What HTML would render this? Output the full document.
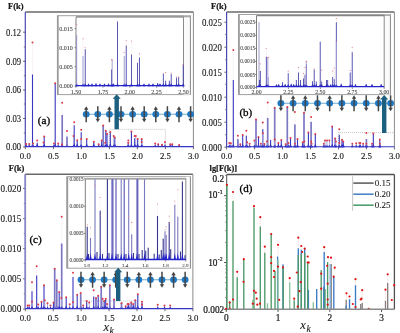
<!DOCTYPE html>
<html><head><meta charset="utf-8"><style>
html,body{margin:0;padding:0;background:#fff;width:400px;height:333px;overflow:hidden}
svg{display:block;will-change:transform}
</style></head><body>
<svg width="400" height="333" viewBox="0 0 400 333" font-family="Liberation Serif">
<rect width="400" height="333" fill="#fff"/>
<line x1="25.30" y1="12.00" x2="193.40" y2="12.00" stroke="#6a6a6a" stroke-width="1.5" />
<line x1="193.40" y1="12.00" x2="193.40" y2="147.00" stroke="#8a8a8a" stroke-width="1.0" />
<line x1="25.30" y1="12.00" x2="25.30" y2="147.00" stroke="#4a48b4" stroke-width="1.2" />
<line x1="23.10" y1="32.20" x2="25.30" y2="32.20" stroke="#555" stroke-width="0.9" />
<text transform="translate(21.20,35.50) scale(0.93,1)" font-size="9.309" text-anchor="end" font-weight="normal" font-style="normal" fill="#1a1a1a" stroke="#1a1a1a" stroke-width="0.12">0.12</text>
<line x1="23.10" y1="61.30" x2="25.30" y2="61.30" stroke="#555" stroke-width="0.9" />
<text transform="translate(21.20,64.60) scale(0.93,1)" font-size="9.309" text-anchor="end" font-weight="normal" font-style="normal" fill="#1a1a1a" stroke="#1a1a1a" stroke-width="0.12">0.09</text>
<line x1="23.10" y1="90.00" x2="25.30" y2="90.00" stroke="#555" stroke-width="0.9" />
<text transform="translate(21.20,93.30) scale(0.93,1)" font-size="9.309" text-anchor="end" font-weight="normal" font-style="normal" fill="#1a1a1a" stroke="#1a1a1a" stroke-width="0.12">0.06</text>
<line x1="23.10" y1="118.50" x2="25.30" y2="118.50" stroke="#555" stroke-width="0.9" />
<text transform="translate(21.20,121.80) scale(0.93,1)" font-size="9.309" text-anchor="end" font-weight="normal" font-style="normal" fill="#1a1a1a" stroke="#1a1a1a" stroke-width="0.12">0.03</text>
<line x1="23.10" y1="147.00" x2="25.30" y2="147.00" stroke="#555" stroke-width="0.9" />
<text transform="translate(21.20,150.30) scale(0.93,1)" font-size="9.309" text-anchor="end" font-weight="normal" font-style="normal" fill="#1a1a1a" stroke="#1a1a1a" stroke-width="0.12">0.00</text>
<line x1="23.80" y1="47.00" x2="25.30" y2="47.00" stroke="#666" stroke-width="0.8" />
<line x1="23.80" y1="75.70" x2="25.30" y2="75.70" stroke="#666" stroke-width="0.8" />
<line x1="23.80" y1="104.00" x2="25.30" y2="104.00" stroke="#666" stroke-width="0.8" />
<line x1="23.80" y1="133.00" x2="25.30" y2="133.00" stroke="#666" stroke-width="0.8" />
<line x1="25.30" y1="147.00" x2="25.30" y2="149.20" stroke="#555" stroke-width="0.9" />
<text x="25.30" y="159.30" font-size="8.8" text-anchor="middle" font-weight="normal" font-style="normal" fill="#1a1a1a" stroke="#1a1a1a" stroke-width="0.14">0.0</text>
<line x1="53.40" y1="147.00" x2="53.40" y2="149.20" stroke="#555" stroke-width="0.9" />
<text x="53.40" y="159.30" font-size="8.8" text-anchor="middle" font-weight="normal" font-style="normal" fill="#1a1a1a" stroke="#1a1a1a" stroke-width="0.14">0.5</text>
<line x1="81.40" y1="147.00" x2="81.40" y2="149.20" stroke="#555" stroke-width="0.9" />
<text x="81.40" y="159.30" font-size="8.8" text-anchor="middle" font-weight="normal" font-style="normal" fill="#1a1a1a" stroke="#1a1a1a" stroke-width="0.14">1.0</text>
<line x1="109.40" y1="147.00" x2="109.40" y2="149.20" stroke="#555" stroke-width="0.9" />
<text x="109.40" y="159.30" font-size="8.8" text-anchor="middle" font-weight="normal" font-style="normal" fill="#1a1a1a" stroke="#1a1a1a" stroke-width="0.14">1.5</text>
<line x1="137.40" y1="147.00" x2="137.40" y2="149.20" stroke="#555" stroke-width="0.9" />
<text x="137.40" y="159.30" font-size="8.8" text-anchor="middle" font-weight="normal" font-style="normal" fill="#1a1a1a" stroke="#1a1a1a" stroke-width="0.14">2.0</text>
<line x1="165.40" y1="147.00" x2="165.40" y2="149.20" stroke="#555" stroke-width="0.9" />
<text x="165.40" y="159.30" font-size="8.8" text-anchor="middle" font-weight="normal" font-style="normal" fill="#1a1a1a" stroke="#1a1a1a" stroke-width="0.14">2.5</text>
<line x1="193.40" y1="147.00" x2="193.40" y2="149.20" stroke="#555" stroke-width="0.9" />
<text x="193.40" y="159.30" font-size="8.8" text-anchor="middle" font-weight="normal" font-style="normal" fill="#1a1a1a" stroke="#1a1a1a" stroke-width="0.14">3.0</text>
<text x="8.00" y="8.80" font-size="8.5" text-anchor="start" font-weight="bold" font-style="normal" fill="#1a1a1a" stroke="#1a1a1a" stroke-width="0.22">F(k)</text>
<polyline points="109.4,147 109.4,129.3 165.4,129.3 165.4,147" fill="none" stroke="#b4b4b4" stroke-width="0.8" stroke-dasharray="1 1"/>
<polygon points="30.90,147.00 32.50,143.50 34.10,147.00" fill="#2828cc"/>
<polygon points="35.60,147.00 37.20,143.50 38.80,147.00" fill="#2828cc"/>
<polygon points="42.60,147.00 44.20,143.50 45.80,147.00" fill="#2828cc"/>
<polygon points="53.60,147.00 55.20,143.50 56.80,147.00" fill="#2828cc"/>
<polygon points="60.60,147.00 62.20,143.50 63.80,147.00" fill="#2828cc"/>
<polygon points="65.40,147.00 67.00,143.50 68.60,147.00" fill="#2828cc"/>
<polygon points="72.60,147.00 74.20,143.50 75.80,147.00" fill="#2828cc"/>
<polygon points="75.60,147.00 77.20,143.50 78.80,147.00" fill="#2828cc"/>
<polygon points="79.60,147.00 81.20,143.50 82.80,147.00" fill="#2828cc"/>
<polygon points="85.10,147.00 86.70,143.50 88.30,147.00" fill="#2828cc"/>
<polygon points="92.20,147.00 93.80,143.50 95.40,147.00" fill="#2828cc"/>
<polygon points="100.10,147.00 101.70,143.50 103.30,147.00" fill="#2828cc"/>
<polygon points="101.60,147.00 103.20,143.50 104.80,147.00" fill="#2828cc"/>
<polygon points="104.20,147.00 105.80,143.50 107.40,147.00" fill="#2828cc"/>
<polygon points="105.40,147.00 107.00,143.50 108.60,147.00" fill="#2828cc"/>
<polygon points="108.70,147.00 110.30,143.50 111.90,147.00" fill="#2828cc"/>
<polygon points="113.20,147.00 114.80,143.50 116.40,147.00" fill="#2828cc"/>
<polygon points="126.70,147.00 128.30,143.50 129.90,147.00" fill="#2828cc"/>
<polygon points="129.80,147.00 131.40,143.50 133.00,147.00" fill="#2828cc"/>
<polygon points="133.10,147.00 134.70,143.50 136.30,147.00" fill="#2828cc"/>
<polygon points="136.10,147.00 137.70,143.50 139.30,147.00" fill="#2828cc"/>
<polygon points="140.10,147.00 141.70,143.50 143.30,147.00" fill="#2828cc"/>
<line x1="32.50" y1="42.50" x2="32.50" y2="74.50" stroke="#f0dcdc" stroke-width="0.7" stroke-dasharray="1 1"/>
<rect x="31.95" y="74.50" width="1.1" height="72.50" fill="#3a36c0"/>
<line x1="37.20" y1="140.50" x2="37.20" y2="142.70" stroke="#f0dcdc" stroke-width="0.7" stroke-dasharray="1 1"/>
<rect x="36.65" y="142.70" width="1.1" height="4.30" fill="#3a36c0"/>
<rect x="43.65" y="137.00" width="1.1" height="10.00" fill="#3a36c0"/>
<rect x="54.65" y="83.00" width="1.1" height="64.00" fill="#3a36c0"/>
<line x1="62.20" y1="102.70" x2="62.20" y2="115.00" stroke="#f0dcdc" stroke-width="0.7" stroke-dasharray="1 1"/>
<rect x="61.35" y="115.00" width="1.7" height="32.00" fill="#7e78c4"/>
<line x1="67.00" y1="131.00" x2="67.00" y2="136.50" stroke="#f0dcdc" stroke-width="0.7" stroke-dasharray="1 1"/>
<rect x="66.15" y="136.50" width="1.7" height="10.50" fill="#7e78c4"/>
<line x1="74.20" y1="122.20" x2="74.20" y2="125.30" stroke="#f0dcdc" stroke-width="0.7" stroke-dasharray="1 1"/>
<rect x="73.65" y="125.30" width="1.1" height="21.70" fill="#3a36c0"/>
<rect x="76.65" y="141.00" width="1.1" height="6.00" fill="#3a36c0"/>
<line x1="81.20" y1="129.70" x2="81.20" y2="132.20" stroke="#f0dcdc" stroke-width="0.7" stroke-dasharray="1 1"/>
<rect x="80.65" y="132.20" width="1.1" height="14.80" fill="#3a36c0"/>
<rect x="86.15" y="139.00" width="1.1" height="8.00" fill="#3a36c0"/>
<rect x="93.25" y="142.00" width="1.1" height="5.00" fill="#3a36c0"/>
<rect x="101.15" y="141.00" width="1.1" height="6.00" fill="#3a36c0"/>
<rect x="102.35" y="125.50" width="1.7" height="21.50" fill="#7e78c4"/>
<rect x="105.25" y="130.70" width="1.1" height="16.30" fill="#3a36c0"/>
<rect x="106.45" y="134.00" width="1.1" height="13.00" fill="#3a36c0"/>
<rect x="109.75" y="132.20" width="1.1" height="14.80" fill="#3a36c0"/>
<rect x="114.25" y="137.50" width="1.1" height="9.50" fill="#3a36c0"/>
<line x1="128.30" y1="140.50" x2="128.30" y2="142.70" stroke="#f0dcdc" stroke-width="0.7" stroke-dasharray="1 1"/>
<rect x="127.75" y="142.70" width="1.1" height="4.30" fill="#3a36c0"/>
<rect x="130.85" y="131.50" width="1.1" height="15.50" fill="#3a36c0"/>
<line x1="134.70" y1="136.00" x2="134.70" y2="138.20" stroke="#f0dcdc" stroke-width="0.7" stroke-dasharray="1 1"/>
<rect x="134.15" y="138.20" width="1.1" height="8.80" fill="#3a36c0"/>
<rect x="137.15" y="139.00" width="1.1" height="8.00" fill="#3a36c0"/>
<rect x="141.15" y="139.00" width="1.1" height="8.00" fill="#3a36c0"/>
<rect x="25.75" y="144.00" width="0.9" height="3.00" fill="#a6a2d8"/>
<polygon points="24.70,147.00 26.20,144.50 27.70,147.00" fill="#3030c8"/>
<rect x="28.75" y="144.00" width="0.9" height="3.00" fill="#a6a2d8"/>
<polygon points="27.70,147.00 29.20,144.50 30.70,147.00" fill="#3030c8"/>
<rect x="32.55" y="143.50" width="0.9" height="3.50" fill="#a6a2d8"/>
<polygon points="31.50,147.00 33.00,144.50 34.50,147.00" fill="#3030c8"/>
<rect x="43.05" y="142.40" width="0.9" height="4.60" fill="#a6a2d8"/>
<polygon points="42.00,147.00 43.50,144.50 45.00,147.00" fill="#3030c8"/>
<rect x="53.55" y="143.50" width="0.9" height="3.50" fill="#a6a2d8"/>
<polygon points="52.50,147.00 54.00,144.50 55.50,147.00" fill="#3030c8"/>
<rect x="57.75" y="143.50" width="0.9" height="3.50" fill="#a6a2d8"/>
<polygon points="56.70,147.00 58.20,144.50 59.70,147.00" fill="#3030c8"/>
<rect x="61.55" y="144.50" width="0.9" height="2.50" fill="#a6a2d8"/>
<polygon points="60.50,147.00 62.00,144.50 63.50,147.00" fill="#3030c8"/>
<rect x="73.05" y="136.00" width="0.9" height="11.00" fill="#a6a2d8"/>
<polygon points="72.00,147.00 73.50,144.50 75.00,147.00" fill="#3030c8"/>
<rect x="80.75" y="139.00" width="0.9" height="8.00" fill="#a6a2d8"/>
<polygon points="79.70,147.00 81.20,144.50 82.70,147.00" fill="#3030c8"/>
<rect x="98.25" y="144.20" width="0.9" height="2.80" fill="#a6a2d8"/>
<polygon points="97.20,147.00 98.70,144.50 100.20,147.00" fill="#3030c8"/>
<rect x="104.75" y="142.70" width="0.9" height="4.30" fill="#a6a2d8"/>
<polygon points="103.70,147.00 105.20,144.50 106.70,147.00" fill="#3030c8"/>
<rect x="113.25" y="136.00" width="0.9" height="11.00" fill="#a6a2d8"/>
<polygon points="112.20,147.00 113.70,144.50 115.20,147.00" fill="#3030c8"/>
<rect x="127.85" y="142.70" width="0.9" height="4.30" fill="#a6a2d8"/>
<polygon points="126.80,147.00 128.30,144.50 129.80,147.00" fill="#3030c8"/>
<rect x="135.35" y="136.00" width="0.9" height="11.00" fill="#a6a2d8"/>
<polygon points="134.30,147.00 135.80,144.50 137.30,147.00" fill="#3030c8"/>
<rect x="141.25" y="142.00" width="0.9" height="5.00" fill="#a6a2d8"/>
<polygon points="140.20,147.00 141.70,144.50 143.20,147.00" fill="#3030c8"/>
<rect x="154.75" y="143.50" width="0.9" height="3.50" fill="#a6a2d8"/>
<polygon points="153.70,147.00 155.20,144.50 156.70,147.00" fill="#3030c8"/>
<rect x="157.75" y="144.20" width="0.9" height="2.80" fill="#a6a2d8"/>
<polygon points="156.70,147.00 158.20,144.50 159.70,147.00" fill="#3030c8"/>
<rect x="161.55" y="144.70" width="0.9" height="2.30" fill="#a6a2d8"/>
<polygon points="160.50,147.00 162.00,144.50 163.50,147.00" fill="#3030c8"/>
<rect x="164.55" y="142.00" width="0.9" height="5.00" fill="#a6a2d8"/>
<polygon points="163.50,147.00 165.00,144.50 166.50,147.00" fill="#3030c8"/>
<rect x="169.75" y="144.20" width="0.9" height="2.80" fill="#a6a2d8"/>
<polygon points="168.70,147.00 170.20,144.50 171.70,147.00" fill="#3030c8"/>
<rect x="171.75" y="144.20" width="0.9" height="2.80" fill="#a6a2d8"/>
<polygon points="170.70,147.00 172.20,144.50 173.70,147.00" fill="#3030c8"/>
<rect x="178.75" y="145.00" width="0.9" height="2.00" fill="#a6a2d8"/>
<polygon points="177.70,147.00 179.20,144.50 180.70,147.00" fill="#3030c8"/>
<circle cx="32.50" cy="42.50" r="1.0" fill="#dc3a48"/>
<circle cx="37.20" cy="140.50" r="1.0" fill="#dc3a48"/>
<circle cx="44.20" cy="136.40" r="1.0" fill="#dc3a48"/>
<circle cx="55.20" cy="83.30" r="1.0" fill="#dc3a48"/>
<circle cx="62.20" cy="102.70" r="1.0" fill="#dc3a48"/>
<circle cx="67.00" cy="131.00" r="1.0" fill="#dc3a48"/>
<circle cx="74.20" cy="122.20" r="1.0" fill="#dc3a48"/>
<circle cx="77.20" cy="140.20" r="1.0" fill="#dc3a48"/>
<circle cx="81.20" cy="129.70" r="1.0" fill="#dc3a48"/>
<circle cx="86.70" cy="139.00" r="1.0" fill="#dc3a48"/>
<circle cx="93.80" cy="141.70" r="1.0" fill="#dc3a48"/>
<circle cx="101.70" cy="140.50" r="1.0" fill="#dc3a48"/>
<circle cx="103.20" cy="125.50" r="1.0" fill="#dc3a48"/>
<circle cx="105.80" cy="130.70" r="1.0" fill="#dc3a48"/>
<circle cx="107.00" cy="133.70" r="1.0" fill="#dc3a48"/>
<circle cx="110.30" cy="132.00" r="1.0" fill="#dc3a48"/>
<circle cx="114.80" cy="137.50" r="1.0" fill="#dc3a48"/>
<circle cx="128.30" cy="140.50" r="1.0" fill="#dc3a48"/>
<circle cx="131.40" cy="131.50" r="1.0" fill="#dc3a48"/>
<circle cx="134.70" cy="136.00" r="1.0" fill="#dc3a48"/>
<circle cx="137.70" cy="139.00" r="1.0" fill="#dc3a48"/>
<circle cx="141.70" cy="139.00" r="1.0" fill="#dc3a48"/>
<circle cx="26.20" cy="144.00" r="1.0" fill="#dc3a48"/>
<circle cx="29.20" cy="144.00" r="1.0" fill="#dc3a48"/>
<circle cx="33.00" cy="143.50" r="1.0" fill="#dc3a48"/>
<circle cx="43.50" cy="142.40" r="1.0" fill="#dc3a48"/>
<circle cx="54.00" cy="143.50" r="1.0" fill="#dc3a48"/>
<circle cx="58.20" cy="143.50" r="1.0" fill="#dc3a48"/>
<circle cx="62.00" cy="144.50" r="1.0" fill="#dc3a48"/>
<circle cx="73.50" cy="136.00" r="1.0" fill="#dc3a48"/>
<circle cx="81.20" cy="139.00" r="1.0" fill="#dc3a48"/>
<circle cx="98.70" cy="144.20" r="1.0" fill="#dc3a48"/>
<circle cx="105.20" cy="142.70" r="1.0" fill="#dc3a48"/>
<circle cx="113.70" cy="136.00" r="1.0" fill="#dc3a48"/>
<circle cx="128.30" cy="142.70" r="1.0" fill="#dc3a48"/>
<circle cx="135.80" cy="136.00" r="1.0" fill="#dc3a48"/>
<circle cx="141.70" cy="142.00" r="1.0" fill="#dc3a48"/>
<circle cx="155.20" cy="143.50" r="1.0" fill="#dc3a48"/>
<circle cx="158.20" cy="144.20" r="1.0" fill="#dc3a48"/>
<circle cx="162.00" cy="144.70" r="1.0" fill="#dc3a48"/>
<circle cx="165.00" cy="142.00" r="1.0" fill="#dc3a48"/>
<circle cx="170.20" cy="144.20" r="1.0" fill="#dc3a48"/>
<circle cx="172.20" cy="144.20" r="1.0" fill="#dc3a48"/>
<circle cx="179.20" cy="145.00" r="1.0" fill="#dc3a48"/>
<line x1="25.30" y1="146.60" x2="193.40" y2="146.60" stroke="#3636c4" stroke-width="1.1" />
<text x="37.80" y="123.90" font-size="11.2" text-anchor="start" font-weight="normal" font-style="normal" fill="#000" stroke="#000" stroke-width="0.3">(a)</text>
<rect x="57.5" y="15.7" width="132.9" height="78.89999999999999" fill="#fff" stroke="#a0a0a0" stroke-width="1"/>
<rect x="183.5" y="15.7" width="6.900000000000006" height="78.89999999999999" fill="#fbfbfb"/>
<line x1="190.40" y1="15.70" x2="190.40" y2="94.60" stroke="#8c8c8c" stroke-width="1.0" />
<line x1="57.80" y1="15.70" x2="57.80" y2="94.60" stroke="#9a9a9a" stroke-width="1.8" />
<rect x="76.0" y="15.7" width="114.4" height="1.6000000000000014" fill="#a8a8a8"/>
<line x1="76.00" y1="17.00" x2="184.00" y2="17.00" stroke="#858585" stroke-width="1.1" />
<line x1="76.00" y1="17.30" x2="76.00" y2="86.20" stroke="#707070" stroke-width="0.9" />
<line x1="183.50" y1="17.30" x2="183.50" y2="86.20" stroke="#8a8a8a" stroke-width="1.0" />
<line x1="74.50" y1="28.70" x2="76.00" y2="28.70" stroke="#555" stroke-width="0.7" />
<text x="72.80" y="30.70" font-size="6.0" text-anchor="end" font-weight="normal" font-style="normal" fill="#333" stroke="#333" stroke-width="0.05">0.015</text>
<line x1="74.50" y1="47.70" x2="76.00" y2="47.70" stroke="#555" stroke-width="0.7" />
<text x="72.80" y="49.70" font-size="6.0" text-anchor="end" font-weight="normal" font-style="normal" fill="#333" stroke="#333" stroke-width="0.05">0.010</text>
<line x1="74.50" y1="66.80" x2="76.00" y2="66.80" stroke="#555" stroke-width="0.7" />
<text x="72.80" y="68.80" font-size="6.0" text-anchor="end" font-weight="normal" font-style="normal" fill="#333" stroke="#333" stroke-width="0.05">0.005</text>
<line x1="74.50" y1="86.20" x2="76.00" y2="86.20" stroke="#555" stroke-width="0.7" />
<text x="72.80" y="88.20" font-size="6.0" text-anchor="end" font-weight="normal" font-style="normal" fill="#333" stroke="#333" stroke-width="0.05">0.000</text>
<line x1="76.00" y1="86.20" x2="76.00" y2="87.70" stroke="#555" stroke-width="0.7" />
<text x="76.00" y="93.60" font-size="6.0" text-anchor="middle" font-weight="normal" font-style="normal" fill="#333" stroke="#333" stroke-width="0.05">1.50</text>
<line x1="102.90" y1="86.20" x2="102.90" y2="87.70" stroke="#555" stroke-width="0.7" />
<text x="102.90" y="93.60" font-size="6.0" text-anchor="middle" font-weight="normal" font-style="normal" fill="#333" stroke="#333" stroke-width="0.05">1.75</text>
<line x1="129.75" y1="86.20" x2="129.75" y2="87.70" stroke="#555" stroke-width="0.7" />
<text x="129.75" y="93.60" font-size="6.0" text-anchor="middle" font-weight="normal" font-style="normal" fill="#333" stroke="#333" stroke-width="0.05">2.00</text>
<line x1="156.60" y1="86.20" x2="156.60" y2="87.70" stroke="#555" stroke-width="0.7" />
<text x="156.60" y="93.60" font-size="6.0" text-anchor="middle" font-weight="normal" font-style="normal" fill="#333" stroke="#333" stroke-width="0.05">2.25</text>
<line x1="183.50" y1="86.20" x2="183.50" y2="87.70" stroke="#555" stroke-width="0.7" />
<text x="183.50" y="93.60" font-size="6.0" text-anchor="middle" font-weight="normal" font-style="normal" fill="#333" stroke="#333" stroke-width="0.05">2.50</text>
<polygon points="75.10,86.20 76.70,83.20 78.30,86.20" fill="#2828cc"/>
<polygon points="81.40,86.20 83.00,83.20 84.60,86.20" fill="#2828cc"/>
<polygon points="83.60,86.20 85.20,83.20 86.80,86.20" fill="#2828cc"/>
<polygon points="109.90,86.20 111.50,83.20 113.10,86.20" fill="#2828cc"/>
<polygon points="115.90,86.20 117.50,83.20 119.10,86.20" fill="#2828cc"/>
<polygon points="122.60,86.20 124.20,83.20 125.80,86.20" fill="#2828cc"/>
<polygon points="124.60,86.20 126.20,83.20 127.80,86.20" fill="#2828cc"/>
<polygon points="129.80,86.20 131.40,83.20 133.00,86.20" fill="#2828cc"/>
<polygon points="135.90,86.20 137.50,83.20 139.10,86.20" fill="#2828cc"/>
<polygon points="137.80,86.20 139.40,83.20 141.00,86.20" fill="#2828cc"/>
<polygon points="156.10,86.20 157.70,83.20 159.30,86.20" fill="#2828cc"/>
<polygon points="161.70,86.20 163.30,83.20 164.90,86.20" fill="#2828cc"/>
<polygon points="164.10,86.20 165.70,83.20 167.30,86.20" fill="#2828cc"/>
<polygon points="167.70,86.20 169.30,83.20 170.90,86.20" fill="#2828cc"/>
<polygon points="169.60,86.20 171.20,83.20 172.80,86.20" fill="#2828cc"/>
<polygon points="174.90,86.20 176.50,83.20 178.10,86.20" fill="#2828cc"/>
<polygon points="177.10,86.20 178.70,83.20 180.30,86.20" fill="#2828cc"/>
<polygon points="181.60,86.20 183.20,83.20 184.80,86.20" fill="#2828cc"/>
<polygon points="86.90,86.20 88.50,83.20 90.10,86.20" fill="#2828cc"/>
<polygon points="90.40,86.20 92.00,83.20 93.60,86.20" fill="#2828cc"/>
<polygon points="94.40,86.20 96.00,83.20 97.60,86.20" fill="#2828cc"/>
<polygon points="98.40,86.20 100.00,83.20 101.60,86.20" fill="#2828cc"/>
<polygon points="102.90,86.20 104.50,83.20 106.10,86.20" fill="#2828cc"/>
<polygon points="106.90,86.20 108.50,83.20 110.10,86.20" fill="#2828cc"/>
<polygon points="142.40,86.20 144.00,83.20 145.60,86.20" fill="#2828cc"/>
<polygon points="147.40,86.20 149.00,83.20 150.60,86.20" fill="#2828cc"/>
<polygon points="151.40,86.20 153.00,83.20 154.60,86.20" fill="#2828cc"/>
<polygon points="158.40,86.20 160.00,83.20 161.60,86.20" fill="#2828cc"/>
<polygon points="111.90,86.20 113.50,83.20 115.10,86.20" fill="#2828cc"/>
<line x1="76.70" y1="24.50" x2="76.70" y2="35.00" stroke="#f0dcdc" stroke-width="0.7" stroke-dasharray="1 1"/>
<rect x="76.28" y="35.00" width="0.85" height="51.20" fill="#8c8ac8"/>
<line x1="83.00" y1="38.70" x2="83.00" y2="56.00" stroke="#f0dcdc" stroke-width="0.7" stroke-dasharray="1 1"/>
<rect x="82.58" y="56.00" width="0.85" height="30.20" fill="#8c8ac8"/>
<rect x="84.78" y="49.20" width="0.85" height="37.00" fill="#3c3aa8"/>
<line x1="111.50" y1="59.70" x2="111.50" y2="69.50" stroke="#f0dcdc" stroke-width="0.7" stroke-dasharray="1 1"/>
<rect x="111.08" y="69.50" width="0.85" height="16.70" fill="#3c3aa8"/>
<rect x="117.08" y="21.50" width="0.85" height="64.70" fill="#3c3aa8"/>
<line x1="124.20" y1="52.20" x2="124.20" y2="56.00" stroke="#f0dcdc" stroke-width="0.7" stroke-dasharray="1 1"/>
<rect x="123.78" y="56.00" width="0.85" height="30.20" fill="#8c8ac8"/>
<line x1="126.20" y1="40.20" x2="126.20" y2="45.50" stroke="#f0dcdc" stroke-width="0.7" stroke-dasharray="1 1"/>
<rect x="125.78" y="45.50" width="0.85" height="40.70" fill="#3c3aa8"/>
<line x1="131.40" y1="41.00" x2="131.40" y2="54.50" stroke="#f0dcdc" stroke-width="0.7" stroke-dasharray="1 1"/>
<rect x="130.97" y="54.50" width="0.85" height="31.70" fill="#3c3aa8"/>
<rect x="137.07" y="62.70" width="0.85" height="23.50" fill="#3c3aa8"/>
<line x1="139.40" y1="53.70" x2="139.40" y2="57.50" stroke="#f0dcdc" stroke-width="0.7" stroke-dasharray="1 1"/>
<rect x="138.97" y="57.50" width="0.85" height="28.70" fill="#3c3aa8"/>
<rect x="157.27" y="83.00" width="0.85" height="3.20" fill="#3c3aa8"/>
<rect x="162.88" y="74.00" width="0.85" height="12.20" fill="#3c3aa8"/>
<line x1="165.70" y1="72.50" x2="165.70" y2="80.70" stroke="#f0dcdc" stroke-width="0.7" stroke-dasharray="1 1"/>
<rect x="165.27" y="80.70" width="0.85" height="5.50" fill="#3c3aa8"/>
<rect x="168.88" y="80.70" width="0.85" height="5.50" fill="#3c3aa8"/>
<rect x="170.77" y="74.00" width="0.85" height="12.20" fill="#3c3aa8"/>
<rect x="176.07" y="77.70" width="0.85" height="8.50" fill="#3c3aa8"/>
<rect x="178.27" y="77.00" width="0.85" height="9.20" fill="#3c3aa8"/>
<rect x="182.77" y="64.20" width="0.85" height="22.00" fill="#3c3aa8"/>
<rect x="88.08" y="84.00" width="0.85" height="2.20" fill="#3c3aa8"/>
<rect x="91.58" y="84.50" width="0.85" height="1.70" fill="#3c3aa8"/>
<rect x="95.58" y="83.50" width="0.85" height="2.70" fill="#3c3aa8"/>
<rect x="99.58" y="84.50" width="0.85" height="1.70" fill="#3c3aa8"/>
<rect x="104.08" y="84.00" width="0.85" height="2.20" fill="#3c3aa8"/>
<rect x="108.08" y="83.80" width="0.85" height="2.40" fill="#3c3aa8"/>
<rect x="143.57" y="84.50" width="0.85" height="1.70" fill="#3c3aa8"/>
<rect x="148.57" y="84.50" width="0.85" height="1.70" fill="#3c3aa8"/>
<rect x="152.57" y="84.00" width="0.85" height="2.20" fill="#3c3aa8"/>
<rect x="159.57" y="84.00" width="0.85" height="2.20" fill="#3c3aa8"/>
<rect x="113.08" y="84.00" width="0.85" height="2.20" fill="#3c3aa8"/>
<rect x="111.75" y="59.70" width="0.9" height="26.50" fill="#a6a2d8"/>
<polygon points="110.70,86.20 112.20,83.70 113.70,86.20" fill="#3030c8"/>
<circle cx="76.70" cy="24.50" r="0.55" fill="#d87080"/>
<circle cx="83.00" cy="38.70" r="0.55" fill="#d87080"/>
<circle cx="85.20" cy="47.70" r="0.55" fill="#d87080"/>
<circle cx="111.50" cy="59.70" r="0.55" fill="#d87080"/>
<circle cx="124.20" cy="52.20" r="0.55" fill="#d87080"/>
<circle cx="126.20" cy="40.20" r="0.55" fill="#d87080"/>
<circle cx="131.40" cy="41.00" r="0.55" fill="#d87080"/>
<circle cx="139.40" cy="53.70" r="0.55" fill="#d87080"/>
<circle cx="163.30" cy="73.20" r="0.55" fill="#d87080"/>
<circle cx="165.70" cy="72.50" r="0.55" fill="#d87080"/>
<circle cx="171.20" cy="73.00" r="0.55" fill="#d87080"/>
<circle cx="176.50" cy="77.00" r="0.55" fill="#d87080"/>
<circle cx="178.70" cy="77.00" r="0.55" fill="#d87080"/>
<circle cx="183.20" cy="64.70" r="0.55" fill="#d87080"/>
<circle cx="112.20" cy="59.70" r="0.55" fill="#d87080"/>
<line x1="76.00" y1="85.60" x2="183.50" y2="85.60" stroke="#2424cc" stroke-width="1.4" />
<line x1="86.20" y1="114.20" x2="193.00" y2="114.20" stroke="#72abcc" stroke-width="1.1" />
<ellipse cx="86.20" cy="114.20" rx="3.4" ry="3.2" fill="#1f78c1"/>
<ellipse cx="97.80" cy="114.20" rx="3.4" ry="3.2" fill="#1f78c1"/>
<ellipse cx="109.40" cy="114.20" rx="3.4" ry="3.2" fill="#1f78c1"/>
<ellipse cx="121.00" cy="114.20" rx="3.4" ry="3.2" fill="#1f78c1"/>
<ellipse cx="132.60" cy="114.20" rx="3.4" ry="3.2" fill="#1f78c1"/>
<ellipse cx="144.20" cy="114.20" rx="3.4" ry="3.2" fill="#1f78c1"/>
<ellipse cx="155.80" cy="114.20" rx="3.4" ry="3.2" fill="#1f78c1"/>
<ellipse cx="167.40" cy="114.20" rx="3.4" ry="3.2" fill="#1f78c1"/>
<ellipse cx="179.00" cy="114.20" rx="3.4" ry="3.2" fill="#1f78c1"/>
<ellipse cx="190.60" cy="114.20" rx="3.4" ry="3.2" fill="#1f78c1"/>
<line x1="86.20" y1="108.70" x2="86.20" y2="122.20" stroke="#454545" stroke-width="1.5" />
<polygon points="84.00,109.70 88.40,109.70 86.20,106.20" fill="#454545"/>
<line x1="97.80" y1="106.20" x2="97.80" y2="119.70" stroke="#454545" stroke-width="1.5" />
<polygon points="95.60,118.70 100.00,118.70 97.80,122.20" fill="#454545"/>
<line x1="109.40" y1="108.70" x2="109.40" y2="122.20" stroke="#454545" stroke-width="1.5" />
<polygon points="107.20,109.70 111.60,109.70 109.40,106.20" fill="#454545"/>
<line x1="121.00" y1="106.20" x2="121.00" y2="119.70" stroke="#454545" stroke-width="1.5" />
<polygon points="118.80,118.70 123.20,118.70 121.00,122.20" fill="#454545"/>
<line x1="132.60" y1="108.70" x2="132.60" y2="122.20" stroke="#454545" stroke-width="1.5" />
<polygon points="130.40,109.70 134.80,109.70 132.60,106.20" fill="#454545"/>
<line x1="144.20" y1="106.20" x2="144.20" y2="119.70" stroke="#454545" stroke-width="1.5" />
<polygon points="142.00,118.70 146.40,118.70 144.20,122.20" fill="#454545"/>
<line x1="155.80" y1="108.70" x2="155.80" y2="122.20" stroke="#454545" stroke-width="1.5" />
<polygon points="153.60,109.70 158.00,109.70 155.80,106.20" fill="#454545"/>
<line x1="167.40" y1="106.20" x2="167.40" y2="119.70" stroke="#454545" stroke-width="1.5" />
<polygon points="165.20,118.70 169.60,118.70 167.40,122.20" fill="#454545"/>
<line x1="179.00" y1="108.70" x2="179.00" y2="122.20" stroke="#454545" stroke-width="1.5" />
<polygon points="176.80,109.70 181.20,109.70 179.00,106.20" fill="#454545"/>
<line x1="190.60" y1="106.20" x2="190.60" y2="119.70" stroke="#454545" stroke-width="1.5" />
<polygon points="188.40,118.70 192.80,118.70 190.60,122.20" fill="#454545"/>
<polygon points="116.70,94.30 120.70,98.80 118.90,98.80 118.90,129.20 114.50,129.20 114.50,98.80 112.70,98.80" fill="#1c5f7e"/>
<line x1="226.60" y1="12.00" x2="394.40" y2="12.00" stroke="#6a6a6a" stroke-width="1.5" />
<line x1="394.40" y1="12.00" x2="394.40" y2="147.20" stroke="#8a8a8a" stroke-width="1.0" />
<line x1="226.60" y1="12.00" x2="226.60" y2="147.20" stroke="#4a48b4" stroke-width="1.2" />
<line x1="224.40" y1="22.20" x2="226.60" y2="22.20" stroke="#555" stroke-width="0.9" />
<text transform="translate(221.80,25.50) scale(0.93,1)" font-size="9.523000000000001" text-anchor="end" font-weight="normal" font-style="normal" fill="#1a1a1a" stroke="#1a1a1a" stroke-width="0.12">0.025</text>
<line x1="224.40" y1="47.20" x2="226.60" y2="47.20" stroke="#555" stroke-width="0.9" />
<text transform="translate(221.80,50.50) scale(0.93,1)" font-size="9.523000000000001" text-anchor="end" font-weight="normal" font-style="normal" fill="#1a1a1a" stroke="#1a1a1a" stroke-width="0.12">0.020</text>
<line x1="224.40" y1="72.20" x2="226.60" y2="72.20" stroke="#555" stroke-width="0.9" />
<text transform="translate(221.80,75.50) scale(0.93,1)" font-size="9.523000000000001" text-anchor="end" font-weight="normal" font-style="normal" fill="#1a1a1a" stroke="#1a1a1a" stroke-width="0.12">0.015</text>
<line x1="224.40" y1="97.20" x2="226.60" y2="97.20" stroke="#555" stroke-width="0.9" />
<text transform="translate(221.80,100.50) scale(0.93,1)" font-size="9.523000000000001" text-anchor="end" font-weight="normal" font-style="normal" fill="#1a1a1a" stroke="#1a1a1a" stroke-width="0.12">0.010</text>
<line x1="224.40" y1="122.20" x2="226.60" y2="122.20" stroke="#555" stroke-width="0.9" />
<text transform="translate(221.80,125.50) scale(0.93,1)" font-size="9.523000000000001" text-anchor="end" font-weight="normal" font-style="normal" fill="#1a1a1a" stroke="#1a1a1a" stroke-width="0.12">0.005</text>
<line x1="224.40" y1="147.20" x2="226.60" y2="147.20" stroke="#555" stroke-width="0.9" />
<text transform="translate(221.80,150.50) scale(0.93,1)" font-size="9.523000000000001" text-anchor="end" font-weight="normal" font-style="normal" fill="#1a1a1a" stroke="#1a1a1a" stroke-width="0.12">0.000</text>
<line x1="225.10" y1="34.40" x2="226.60" y2="34.40" stroke="#666" stroke-width="0.8" />
<line x1="225.10" y1="59.70" x2="226.60" y2="59.70" stroke="#666" stroke-width="0.8" />
<line x1="225.10" y1="84.40" x2="226.60" y2="84.40" stroke="#666" stroke-width="0.8" />
<line x1="225.10" y1="109.70" x2="226.60" y2="109.70" stroke="#666" stroke-width="0.8" />
<line x1="225.10" y1="134.70" x2="226.60" y2="134.70" stroke="#666" stroke-width="0.8" />
<line x1="226.60" y1="147.20" x2="226.60" y2="149.40" stroke="#555" stroke-width="0.9" />
<text x="226.60" y="159.30" font-size="8.8" text-anchor="middle" font-weight="normal" font-style="normal" fill="#1a1a1a" stroke="#1a1a1a" stroke-width="0.14">0.0</text>
<line x1="254.57" y1="147.20" x2="254.57" y2="149.40" stroke="#555" stroke-width="0.9" />
<text x="254.57" y="159.30" font-size="8.8" text-anchor="middle" font-weight="normal" font-style="normal" fill="#1a1a1a" stroke="#1a1a1a" stroke-width="0.14">0.5</text>
<line x1="282.53" y1="147.20" x2="282.53" y2="149.40" stroke="#555" stroke-width="0.9" />
<text x="282.53" y="159.30" font-size="8.8" text-anchor="middle" font-weight="normal" font-style="normal" fill="#1a1a1a" stroke="#1a1a1a" stroke-width="0.14">1.0</text>
<line x1="310.50" y1="147.20" x2="310.50" y2="149.40" stroke="#555" stroke-width="0.9" />
<text x="310.50" y="159.30" font-size="8.8" text-anchor="middle" font-weight="normal" font-style="normal" fill="#1a1a1a" stroke="#1a1a1a" stroke-width="0.14">1.5</text>
<line x1="338.47" y1="147.20" x2="338.47" y2="149.40" stroke="#555" stroke-width="0.9" />
<text x="338.47" y="159.30" font-size="8.8" text-anchor="middle" font-weight="normal" font-style="normal" fill="#1a1a1a" stroke="#1a1a1a" stroke-width="0.14">2.0</text>
<line x1="366.43" y1="147.20" x2="366.43" y2="149.40" stroke="#555" stroke-width="0.9" />
<text x="366.43" y="159.30" font-size="8.8" text-anchor="middle" font-weight="normal" font-style="normal" fill="#1a1a1a" stroke="#1a1a1a" stroke-width="0.14">2.5</text>
<line x1="394.40" y1="147.20" x2="394.40" y2="149.40" stroke="#555" stroke-width="0.9" />
<text x="394.40" y="159.30" font-size="8.8" text-anchor="middle" font-weight="normal" font-style="normal" fill="#1a1a1a" stroke="#1a1a1a" stroke-width="0.14">3.0</text>
<text x="211.00" y="8.80" font-size="8.5" text-anchor="start" font-weight="bold" font-style="normal" fill="#1a1a1a" stroke="#1a1a1a" stroke-width="0.22">F(k)</text>
<polyline points="338.5,147 338.5,132.6 393.8,132.6" fill="none" stroke="#b4b4b4" stroke-width="0.8" stroke-dasharray="1 1"/>
<polygon points="231.70,147.20 233.30,143.70 234.90,147.20" fill="#2828cc"/>
<polygon points="236.30,147.20 237.90,143.70 239.50,147.20" fill="#2828cc"/>
<polygon points="241.10,147.20 242.70,143.70 244.30,147.20" fill="#2828cc"/>
<polygon points="244.70,147.20 246.30,143.70 247.90,147.20" fill="#2828cc"/>
<polygon points="254.40,147.20 256.00,143.70 257.60,147.20" fill="#2828cc"/>
<polygon points="256.90,147.20 258.50,143.70 260.10,147.20" fill="#2828cc"/>
<polygon points="261.20,147.20 262.80,143.70 264.40,147.20" fill="#2828cc"/>
<polygon points="266.10,147.20 267.70,143.70 269.30,147.20" fill="#2828cc"/>
<polygon points="269.00,147.20 270.60,143.70 272.20,147.20" fill="#2828cc"/>
<polygon points="273.10,147.20 274.70,143.70 276.30,147.20" fill="#2828cc"/>
<polygon points="276.80,147.20 278.40,143.70 280.00,147.20" fill="#2828cc"/>
<polygon points="279.70,147.20 281.30,143.70 282.90,147.20" fill="#2828cc"/>
<polygon points="285.70,147.20 287.30,143.70 288.90,147.20" fill="#2828cc"/>
<polygon points="288.90,147.20 290.50,143.70 292.10,147.20" fill="#2828cc"/>
<polygon points="293.30,147.20 294.90,143.70 296.50,147.20" fill="#2828cc"/>
<polygon points="295.90,147.20 297.50,143.70 299.10,147.20" fill="#2828cc"/>
<polygon points="301.10,147.20 302.70,143.70 304.30,147.20" fill="#2828cc"/>
<polygon points="302.40,147.20 304.00,143.70 305.60,147.20" fill="#2828cc"/>
<polygon points="306.80,147.20 308.40,143.70 310.00,147.20" fill="#2828cc"/>
<polygon points="309.50,147.20 311.10,143.70 312.70,147.20" fill="#2828cc"/>
<polygon points="313.70,147.20 315.30,143.70 316.90,147.20" fill="#2828cc"/>
<polygon points="330.60,147.20 332.20,143.70 333.80,147.20" fill="#2828cc"/>
<polygon points="333.50,147.20 335.10,143.70 336.70,147.20" fill="#2828cc"/>
<polygon points="337.70,147.20 339.30,143.70 340.90,147.20" fill="#2828cc"/>
<polygon points="340.40,147.20 342.00,143.70 343.60,147.20" fill="#2828cc"/>
<polygon points="341.60,147.20 343.20,143.70 344.80,147.20" fill="#2828cc"/>
<polygon points="364.80,147.20 366.40,143.70 368.00,147.20" fill="#2828cc"/>
<polygon points="371.70,147.20 373.30,143.70 374.90,147.20" fill="#2828cc"/>
<polygon points="378.20,147.20 379.80,143.70 381.40,147.20" fill="#2828cc"/>
<line x1="233.30" y1="50.00" x2="233.30" y2="80.00" stroke="#f0dcdc" stroke-width="0.7" stroke-dasharray="1 1"/>
<rect x="232.75" y="80.00" width="1.1" height="67.20" fill="#3a36c0"/>
<line x1="237.90" y1="135.70" x2="237.90" y2="139.00" stroke="#f0dcdc" stroke-width="0.7" stroke-dasharray="1 1"/>
<rect x="237.05" y="139.00" width="1.7" height="8.20" fill="#7e78c4"/>
<rect x="242.15" y="134.90" width="1.1" height="12.30" fill="#3a36c0"/>
<line x1="246.30" y1="130.80" x2="246.30" y2="135.70" stroke="#f0dcdc" stroke-width="0.7" stroke-dasharray="1 1"/>
<rect x="245.75" y="135.70" width="1.1" height="11.50" fill="#3a36c0"/>
<rect x="255.15" y="119.50" width="1.7" height="27.70" fill="#7e78c4"/>
<rect x="257.95" y="136.50" width="1.1" height="10.70" fill="#3a36c0"/>
<line x1="262.80" y1="122.40" x2="262.80" y2="129.20" stroke="#f0dcdc" stroke-width="0.7" stroke-dasharray="1 1"/>
<rect x="262.25" y="129.20" width="1.1" height="18.00" fill="#3a36c0"/>
<line x1="267.70" y1="102.50" x2="267.70" y2="117.90" stroke="#f0dcdc" stroke-width="0.7" stroke-dasharray="1 1"/>
<rect x="266.85" y="117.90" width="1.7" height="29.30" fill="#7e78c4"/>
<rect x="270.05" y="139.80" width="1.1" height="7.40" fill="#3a36c0"/>
<rect x="273.85" y="107.70" width="1.7" height="39.50" fill="#7e78c4"/>
<rect x="277.85" y="143.00" width="1.1" height="4.20" fill="#3a36c0"/>
<rect x="280.75" y="140.10" width="1.1" height="7.10" fill="#3a36c0"/>
<rect x="286.45" y="107.00" width="1.7" height="40.20" fill="#7e78c4"/>
<rect x="289.95" y="138.50" width="1.1" height="8.70" fill="#3a36c0"/>
<line x1="294.90" y1="111.90" x2="294.90" y2="124.40" stroke="#f0dcdc" stroke-width="0.7" stroke-dasharray="1 1"/>
<rect x="294.05" y="124.40" width="1.7" height="22.80" fill="#7e78c4"/>
<rect x="296.95" y="139.00" width="1.1" height="8.20" fill="#3a36c0"/>
<rect x="302.15" y="142.20" width="1.1" height="5.00" fill="#3a36c0"/>
<rect x="303.15" y="113.00" width="1.7" height="34.20" fill="#7e78c4"/>
<rect x="307.85" y="132.50" width="1.1" height="14.70" fill="#3a36c0"/>
<line x1="311.10" y1="117.10" x2="311.10" y2="121.90" stroke="#f0dcdc" stroke-width="0.7" stroke-dasharray="1 1"/>
<rect x="310.25" y="121.90" width="1.7" height="25.30" fill="#7e78c4"/>
<rect x="314.75" y="134.10" width="1.1" height="13.10" fill="#3a36c0"/>
<rect x="331.65" y="126.50" width="1.1" height="20.70" fill="#3a36c0"/>
<rect x="334.55" y="138.50" width="1.1" height="8.70" fill="#3a36c0"/>
<line x1="339.30" y1="129.20" x2="339.30" y2="134.90" stroke="#f0dcdc" stroke-width="0.7" stroke-dasharray="1 1"/>
<rect x="338.75" y="134.90" width="1.1" height="12.30" fill="#3a36c0"/>
<rect x="341.45" y="139.80" width="1.1" height="7.40" fill="#3a36c0"/>
<rect x="342.65" y="141.40" width="1.1" height="5.80" fill="#3a36c0"/>
<line x1="366.40" y1="133.00" x2="366.40" y2="139.00" stroke="#f0dcdc" stroke-width="0.7" stroke-dasharray="1 1"/>
<rect x="365.55" y="139.00" width="1.7" height="8.20" fill="#7e78c4"/>
<rect x="372.75" y="134.00" width="1.1" height="13.20" fill="#3a36c0"/>
<rect x="379.25" y="139.80" width="1.1" height="7.40" fill="#3a36c0"/>
<rect x="228.85" y="143.00" width="0.9" height="4.20" fill="#a6a2d8"/>
<polygon points="227.80,147.20 229.30,144.70 230.80,147.20" fill="#3030c8"/>
<rect x="230.45" y="143.30" width="0.9" height="3.90" fill="#a6a2d8"/>
<polygon points="229.40,147.20 230.90,144.70 232.40,147.20" fill="#3030c8"/>
<rect x="239.85" y="144.30" width="0.9" height="2.90" fill="#a6a2d8"/>
<polygon points="238.80,147.20 240.30,144.70 241.80,147.20" fill="#3030c8"/>
<rect x="246.65" y="142.20" width="0.9" height="5.00" fill="#a6a2d8"/>
<polygon points="245.60,147.20 247.10,144.70 248.60,147.20" fill="#3030c8"/>
<rect x="249.15" y="143.80" width="0.9" height="3.40" fill="#a6a2d8"/>
<polygon points="248.10,147.20 249.60,144.70 251.10,147.20" fill="#3030c8"/>
<rect x="253.95" y="140.60" width="0.9" height="6.60" fill="#a6a2d8"/>
<polygon points="252.90,147.20 254.40,144.70 255.90,147.20" fill="#3030c8"/>
<rect x="260.45" y="143.80" width="0.9" height="3.40" fill="#a6a2d8"/>
<polygon points="259.40,147.20 260.90,144.70 262.40,147.20" fill="#3030c8"/>
<rect x="262.35" y="133.30" width="0.9" height="13.90" fill="#a6a2d8"/>
<polygon points="261.30,147.20 262.80,144.70 264.30,147.20" fill="#3030c8"/>
<rect x="264.05" y="144.00" width="0.9" height="3.20" fill="#a6a2d8"/>
<polygon points="263.00,147.20 264.50,144.70 266.00,147.20" fill="#3030c8"/>
<rect x="266.55" y="141.40" width="0.9" height="5.80" fill="#a6a2d8"/>
<polygon points="265.50,147.20 267.00,144.70 268.50,147.20" fill="#3030c8"/>
<rect x="274.25" y="139.40" width="0.9" height="7.80" fill="#a6a2d8"/>
<polygon points="273.20,147.20 274.70,144.70 276.20,147.20" fill="#3030c8"/>
<rect x="285.25" y="144.30" width="0.9" height="2.90" fill="#a6a2d8"/>
<polygon points="284.20,147.20 285.70,144.70 287.20,147.20" fill="#3030c8"/>
<rect x="287.95" y="143.00" width="0.9" height="4.20" fill="#a6a2d8"/>
<polygon points="286.90,147.20 288.40,144.70 289.90,147.20" fill="#3030c8"/>
<rect x="294.45" y="143.80" width="0.9" height="3.40" fill="#a6a2d8"/>
<polygon points="293.40,147.20 294.90,144.70 296.40,147.20" fill="#3030c8"/>
<rect x="303.85" y="141.40" width="0.9" height="5.80" fill="#a6a2d8"/>
<polygon points="302.80,147.20 304.30,144.70 305.80,147.20" fill="#3030c8"/>
<rect x="310.65" y="141.40" width="0.9" height="5.80" fill="#a6a2d8"/>
<polygon points="309.60,147.20 311.10,144.70 312.60,147.20" fill="#3030c8"/>
<rect x="311.15" y="143.80" width="0.9" height="3.40" fill="#a6a2d8"/>
<polygon points="310.10,147.20 311.60,144.70 313.10,147.20" fill="#3030c8"/>
<rect x="323.35" y="143.80" width="0.9" height="3.40" fill="#a6a2d8"/>
<polygon points="322.30,147.20 323.80,144.70 325.30,147.20" fill="#3030c8"/>
<rect x="324.55" y="140.60" width="0.9" height="6.60" fill="#a6a2d8"/>
<polygon points="323.50,147.20 325.00,144.70 326.50,147.20" fill="#3030c8"/>
<rect x="326.55" y="140.60" width="0.9" height="6.60" fill="#a6a2d8"/>
<polygon points="325.50,147.20 327.00,144.70 328.50,147.20" fill="#3030c8"/>
<rect x="328.95" y="140.60" width="0.9" height="6.60" fill="#a6a2d8"/>
<polygon points="327.90,147.20 329.40,144.70 330.90,147.20" fill="#3030c8"/>
<rect x="335.45" y="141.40" width="0.9" height="5.80" fill="#a6a2d8"/>
<polygon points="334.40,147.20 335.90,144.70 337.40,147.20" fill="#3030c8"/>
<rect x="338.85" y="143.00" width="0.9" height="4.20" fill="#a6a2d8"/>
<polygon points="337.80,147.20 339.30,144.70 340.80,147.20" fill="#3030c8"/>
<rect x="351.85" y="143.80" width="0.9" height="3.40" fill="#a6a2d8"/>
<polygon points="350.80,147.20 352.30,144.70 353.80,147.20" fill="#3030c8"/>
<rect x="355.75" y="143.30" width="0.9" height="3.90" fill="#a6a2d8"/>
<polygon points="354.70,147.20 356.20,144.70 357.70,147.20" fill="#3030c8"/>
<rect x="358.95" y="143.00" width="0.9" height="4.20" fill="#a6a2d8"/>
<polygon points="357.90,147.20 359.40,144.70 360.90,147.20" fill="#3030c8"/>
<rect x="359.95" y="143.00" width="0.9" height="4.20" fill="#a6a2d8"/>
<polygon points="358.90,147.20 360.40,144.70 361.90,147.20" fill="#3030c8"/>
<rect x="362.65" y="143.80" width="0.9" height="3.40" fill="#a6a2d8"/>
<polygon points="361.60,147.20 363.10,144.70 364.60,147.20" fill="#3030c8"/>
<rect x="365.95" y="143.80" width="0.9" height="3.40" fill="#a6a2d8"/>
<polygon points="364.90,147.20 366.40,144.70 367.90,147.20" fill="#3030c8"/>
<rect x="371.55" y="143.80" width="0.9" height="3.40" fill="#a6a2d8"/>
<polygon points="370.50,147.20 372.00,144.70 373.50,147.20" fill="#3030c8"/>
<rect x="379.35" y="143.80" width="0.9" height="3.40" fill="#a6a2d8"/>
<polygon points="378.30,147.20 379.80,144.70 381.30,147.20" fill="#3030c8"/>
<circle cx="233.30" cy="50.00" r="1.0" fill="#dc3a48"/>
<circle cx="237.90" cy="135.70" r="1.0" fill="#dc3a48"/>
<circle cx="242.70" cy="134.90" r="1.0" fill="#dc3a48"/>
<circle cx="246.30" cy="130.80" r="1.0" fill="#dc3a48"/>
<circle cx="256.00" cy="119.50" r="1.0" fill="#dc3a48"/>
<circle cx="258.50" cy="137.30" r="1.0" fill="#dc3a48"/>
<circle cx="262.80" cy="122.40" r="1.0" fill="#dc3a48"/>
<circle cx="267.70" cy="102.50" r="1.0" fill="#dc3a48"/>
<circle cx="274.70" cy="107.70" r="1.0" fill="#dc3a48"/>
<circle cx="278.40" cy="143.00" r="1.0" fill="#dc3a48"/>
<circle cx="281.30" cy="140.10" r="1.0" fill="#dc3a48"/>
<circle cx="287.30" cy="107.00" r="1.0" fill="#dc3a48"/>
<circle cx="290.50" cy="138.10" r="1.0" fill="#dc3a48"/>
<circle cx="294.90" cy="111.90" r="1.0" fill="#dc3a48"/>
<circle cx="297.50" cy="139.00" r="1.0" fill="#dc3a48"/>
<circle cx="302.70" cy="142.20" r="1.0" fill="#dc3a48"/>
<circle cx="304.00" cy="112.70" r="1.0" fill="#dc3a48"/>
<circle cx="308.40" cy="132.50" r="1.0" fill="#dc3a48"/>
<circle cx="311.10" cy="117.10" r="1.0" fill="#dc3a48"/>
<circle cx="315.30" cy="134.10" r="1.0" fill="#dc3a48"/>
<circle cx="332.20" cy="126.50" r="1.0" fill="#dc3a48"/>
<circle cx="335.10" cy="138.50" r="1.0" fill="#dc3a48"/>
<circle cx="339.30" cy="129.20" r="1.0" fill="#dc3a48"/>
<circle cx="342.00" cy="139.80" r="1.0" fill="#dc3a48"/>
<circle cx="343.20" cy="141.40" r="1.0" fill="#dc3a48"/>
<circle cx="366.40" cy="133.00" r="1.0" fill="#dc3a48"/>
<circle cx="373.30" cy="133.60" r="1.0" fill="#dc3a48"/>
<circle cx="379.80" cy="139.40" r="1.0" fill="#dc3a48"/>
<circle cx="229.30" cy="143.00" r="1.0" fill="#dc3a48"/>
<circle cx="230.90" cy="143.30" r="1.0" fill="#dc3a48"/>
<circle cx="240.30" cy="144.30" r="1.0" fill="#dc3a48"/>
<circle cx="247.10" cy="142.20" r="1.0" fill="#dc3a48"/>
<circle cx="249.60" cy="143.80" r="1.0" fill="#dc3a48"/>
<circle cx="254.40" cy="140.60" r="1.0" fill="#dc3a48"/>
<circle cx="260.90" cy="143.80" r="1.0" fill="#dc3a48"/>
<circle cx="262.80" cy="133.30" r="1.0" fill="#dc3a48"/>
<circle cx="264.50" cy="144.00" r="1.0" fill="#dc3a48"/>
<circle cx="267.00" cy="141.40" r="1.0" fill="#dc3a48"/>
<circle cx="274.70" cy="139.40" r="1.0" fill="#dc3a48"/>
<circle cx="285.70" cy="144.30" r="1.0" fill="#dc3a48"/>
<circle cx="288.40" cy="143.00" r="1.0" fill="#dc3a48"/>
<circle cx="294.90" cy="143.80" r="1.0" fill="#dc3a48"/>
<circle cx="304.30" cy="141.40" r="1.0" fill="#dc3a48"/>
<circle cx="311.10" cy="141.40" r="1.0" fill="#dc3a48"/>
<circle cx="311.60" cy="143.80" r="1.0" fill="#dc3a48"/>
<circle cx="323.80" cy="143.80" r="1.0" fill="#dc3a48"/>
<circle cx="325.00" cy="140.60" r="1.0" fill="#dc3a48"/>
<circle cx="327.00" cy="140.60" r="1.0" fill="#dc3a48"/>
<circle cx="329.40" cy="140.60" r="1.0" fill="#dc3a48"/>
<circle cx="335.90" cy="141.40" r="1.0" fill="#dc3a48"/>
<circle cx="339.30" cy="143.00" r="1.0" fill="#dc3a48"/>
<circle cx="352.30" cy="143.80" r="1.0" fill="#dc3a48"/>
<circle cx="356.20" cy="143.30" r="1.0" fill="#dc3a48"/>
<circle cx="359.40" cy="143.00" r="1.0" fill="#dc3a48"/>
<circle cx="360.40" cy="143.00" r="1.0" fill="#dc3a48"/>
<circle cx="363.10" cy="143.80" r="1.0" fill="#dc3a48"/>
<circle cx="366.40" cy="143.80" r="1.0" fill="#dc3a48"/>
<circle cx="372.00" cy="143.80" r="1.0" fill="#dc3a48"/>
<circle cx="379.80" cy="143.80" r="1.0" fill="#dc3a48"/>
<line x1="226.60" y1="146.80" x2="394.40" y2="146.80" stroke="#3636c4" stroke-width="1.1" />
<text x="239.40" y="116.00" font-size="11.0" text-anchor="start" font-weight="normal" font-style="normal" fill="#000" stroke="#000" stroke-width="0.3">(b)</text>
<rect x="238.6" y="14.5" width="151.79999999999998" height="80.1" fill="#fff" stroke="#a0a0a0" stroke-width="1"/>
<rect x="384.2" y="14.5" width="6.199999999999989" height="80.1" fill="#fbfbfb"/>
<line x1="390.40" y1="14.50" x2="390.40" y2="94.60" stroke="#8c8c8c" stroke-width="1.0" />
<line x1="238.90" y1="14.50" x2="238.90" y2="94.60" stroke="#9a9a9a" stroke-width="1.8" />
<rect x="256.5" y="14.5" width="133.89999999999998" height="1.4000000000000004" fill="#a8a8a8"/>
<line x1="256.50" y1="15.60" x2="384.70" y2="15.60" stroke="#858585" stroke-width="1.1" />
<line x1="256.50" y1="15.90" x2="256.50" y2="87.40" stroke="#707070" stroke-width="0.9" />
<line x1="384.20" y1="15.90" x2="384.20" y2="87.40" stroke="#8a8a8a" stroke-width="1.0" />
<line x1="255.00" y1="22.20" x2="256.50" y2="22.20" stroke="#555" stroke-width="0.7" />
<text x="255.20" y="24.20" font-size="5.4" text-anchor="end" font-weight="normal" font-style="normal" fill="#333" stroke="#333" stroke-width="0.05">0.0025</text>
<line x1="255.00" y1="35.30" x2="256.50" y2="35.30" stroke="#555" stroke-width="0.7" />
<text x="255.20" y="37.30" font-size="5.4" text-anchor="end" font-weight="normal" font-style="normal" fill="#333" stroke="#333" stroke-width="0.05">0.0020</text>
<line x1="255.00" y1="48.40" x2="256.50" y2="48.40" stroke="#555" stroke-width="0.7" />
<text x="255.20" y="50.40" font-size="5.4" text-anchor="end" font-weight="normal" font-style="normal" fill="#333" stroke="#333" stroke-width="0.05">0.0015</text>
<line x1="255.00" y1="61.40" x2="256.50" y2="61.40" stroke="#555" stroke-width="0.7" />
<text x="255.20" y="63.40" font-size="5.4" text-anchor="end" font-weight="normal" font-style="normal" fill="#333" stroke="#333" stroke-width="0.05">0.0010</text>
<line x1="255.00" y1="74.50" x2="256.50" y2="74.50" stroke="#555" stroke-width="0.7" />
<text x="255.20" y="76.50" font-size="5.4" text-anchor="end" font-weight="normal" font-style="normal" fill="#333" stroke="#333" stroke-width="0.05">0.0005</text>
<line x1="255.00" y1="87.40" x2="256.50" y2="87.40" stroke="#555" stroke-width="0.7" />
<text x="255.20" y="89.40" font-size="5.4" text-anchor="end" font-weight="normal" font-style="normal" fill="#333" stroke="#333" stroke-width="0.05">0.0000</text>
<line x1="256.50" y1="87.40" x2="256.50" y2="88.90" stroke="#555" stroke-width="0.7" />
<text x="256.50" y="94.00" font-size="5.8" text-anchor="middle" font-weight="normal" font-style="normal" fill="#333" stroke="#333" stroke-width="0.05">2.00</text>
<line x1="288.40" y1="87.40" x2="288.40" y2="88.90" stroke="#555" stroke-width="0.7" />
<text x="288.40" y="94.00" font-size="5.8" text-anchor="middle" font-weight="normal" font-style="normal" fill="#333" stroke="#333" stroke-width="0.05">2.25</text>
<line x1="320.35" y1="87.40" x2="320.35" y2="88.90" stroke="#555" stroke-width="0.7" />
<text x="320.35" y="94.00" font-size="5.8" text-anchor="middle" font-weight="normal" font-style="normal" fill="#333" stroke="#333" stroke-width="0.05">2.50</text>
<line x1="352.30" y1="87.40" x2="352.30" y2="88.90" stroke="#555" stroke-width="0.7" />
<text x="352.30" y="94.00" font-size="5.8" text-anchor="middle" font-weight="normal" font-style="normal" fill="#333" stroke="#333" stroke-width="0.05">2.75</text>
<line x1="384.20" y1="87.40" x2="384.20" y2="88.90" stroke="#555" stroke-width="0.7" />
<text x="384.20" y="94.00" font-size="5.8" text-anchor="middle" font-weight="normal" font-style="normal" fill="#333" stroke="#333" stroke-width="0.05">3.00</text>
<polygon points="257.40,87.00 259.00,84.00 260.60,87.00" fill="#2828cc"/>
<polygon points="258.70,87.00 260.30,84.00 261.90,87.00" fill="#2828cc"/>
<polygon points="264.70,87.00 266.30,84.00 267.90,87.00" fill="#2828cc"/>
<polygon points="266.60,87.00 268.20,84.00 269.80,87.00" fill="#2828cc"/>
<polygon points="274.90,87.00 276.50,84.00 278.10,87.00" fill="#2828cc"/>
<polygon points="277.10,87.00 278.70,84.00 280.30,87.00" fill="#2828cc"/>
<polygon points="280.90,87.00 282.50,84.00 284.10,87.00" fill="#2828cc"/>
<polygon points="283.60,87.00 285.20,84.00 286.80,87.00" fill="#2828cc"/>
<polygon points="286.60,87.00 288.20,84.00 289.80,87.00" fill="#2828cc"/>
<polygon points="289.60,87.00 291.20,84.00 292.80,87.00" fill="#2828cc"/>
<polygon points="292.10,87.00 293.70,84.00 295.30,87.00" fill="#2828cc"/>
<polygon points="294.70,87.00 296.30,84.00 297.90,87.00" fill="#2828cc"/>
<polygon points="296.90,87.00 298.50,84.00 300.10,87.00" fill="#2828cc"/>
<polygon points="298.90,87.00 300.50,84.00 302.10,87.00" fill="#2828cc"/>
<polygon points="301.90,87.00 303.50,84.00 305.10,87.00" fill="#2828cc"/>
<polygon points="303.40,87.00 305.00,84.00 306.60,87.00" fill="#2828cc"/>
<polygon points="304.90,87.00 306.50,84.00 308.10,87.00" fill="#2828cc"/>
<polygon points="310.90,87.00 312.50,84.00 314.10,87.00" fill="#2828cc"/>
<polygon points="312.60,87.00 314.20,84.00 315.80,87.00" fill="#2828cc"/>
<polygon points="314.60,87.00 316.20,84.00 317.80,87.00" fill="#2828cc"/>
<polygon points="318.60,87.00 320.20,84.00 321.80,87.00" fill="#2828cc"/>
<polygon points="320.10,87.00 321.70,84.00 323.30,87.00" fill="#2828cc"/>
<polygon points="324.90,87.00 326.50,84.00 328.10,87.00" fill="#2828cc"/>
<polygon points="326.10,87.00 327.70,84.00 329.30,87.00" fill="#2828cc"/>
<polygon points="329.10,87.00 330.70,84.00 332.30,87.00" fill="#2828cc"/>
<polygon points="331.10,87.00 332.70,84.00 334.30,87.00" fill="#2828cc"/>
<polygon points="332.60,87.00 334.20,84.00 335.80,87.00" fill="#2828cc"/>
<polygon points="334.70,87.00 336.30,84.00 337.90,87.00" fill="#2828cc"/>
<polygon points="339.60,87.00 341.20,84.00 342.80,87.00" fill="#2828cc"/>
<polygon points="348.60,87.00 350.20,84.00 351.80,87.00" fill="#2828cc"/>
<polygon points="350.60,87.00 352.20,84.00 353.80,87.00" fill="#2828cc"/>
<polygon points="353.90,87.00 355.50,84.00 357.10,87.00" fill="#2828cc"/>
<polygon points="364.60,87.00 366.20,84.00 367.80,87.00" fill="#2828cc"/>
<polygon points="370.40,87.00 372.00,84.00 373.60,87.00" fill="#2828cc"/>
<polygon points="379.60,87.00 381.20,84.00 382.80,87.00" fill="#2828cc"/>
<polygon points="257.90,87.00 259.50,84.00 261.10,87.00" fill="#2828cc"/>
<rect x="258.57" y="22.20" width="0.85" height="64.80" fill="#8c8ac8"/>
<line x1="260.30" y1="63.80" x2="260.30" y2="71.00" stroke="#f0dcdc" stroke-width="0.7" stroke-dasharray="1 1"/>
<rect x="259.88" y="71.00" width="0.85" height="16.00" fill="#3c3aa8"/>
<line x1="266.30" y1="48.20" x2="266.30" y2="56.70" stroke="#f0dcdc" stroke-width="0.7" stroke-dasharray="1 1"/>
<rect x="265.88" y="56.70" width="0.85" height="30.30" fill="#3c3aa8"/>
<line x1="268.20" y1="57.20" x2="268.20" y2="77.00" stroke="#f0dcdc" stroke-width="0.7" stroke-dasharray="1 1"/>
<rect x="267.77" y="77.00" width="0.85" height="10.00" fill="#8c8ac8"/>
<rect x="276.07" y="85.20" width="0.85" height="1.80" fill="#3c3aa8"/>
<rect x="278.27" y="84.50" width="0.85" height="2.50" fill="#3c3aa8"/>
<rect x="282.07" y="82.20" width="0.85" height="4.80" fill="#3c3aa8"/>
<rect x="284.77" y="84.50" width="0.85" height="2.50" fill="#3c3aa8"/>
<line x1="288.20" y1="71.00" x2="288.20" y2="73.20" stroke="#f0dcdc" stroke-width="0.7" stroke-dasharray="1 1"/>
<rect x="287.77" y="73.20" width="0.85" height="13.80" fill="#3c3aa8"/>
<rect x="290.77" y="83.70" width="0.85" height="3.30" fill="#3c3aa8"/>
<rect x="293.27" y="84.50" width="0.85" height="2.50" fill="#3c3aa8"/>
<rect x="295.88" y="80.00" width="0.85" height="7.00" fill="#3c3aa8"/>
<line x1="298.50" y1="67.20" x2="298.50" y2="72.50" stroke="#f0dcdc" stroke-width="0.7" stroke-dasharray="1 1"/>
<rect x="298.07" y="72.50" width="0.85" height="14.50" fill="#3c3aa8"/>
<rect x="300.07" y="80.00" width="0.85" height="7.00" fill="#3c3aa8"/>
<line x1="303.50" y1="73.20" x2="303.50" y2="78.50" stroke="#f0dcdc" stroke-width="0.7" stroke-dasharray="1 1"/>
<rect x="303.07" y="78.50" width="0.85" height="8.50" fill="#3c3aa8"/>
<line x1="305.00" y1="67.20" x2="305.00" y2="74.70" stroke="#f0dcdc" stroke-width="0.7" stroke-dasharray="1 1"/>
<rect x="304.57" y="74.70" width="0.85" height="12.30" fill="#3c3aa8"/>
<line x1="306.50" y1="61.20" x2="306.50" y2="64.20" stroke="#f0dcdc" stroke-width="0.7" stroke-dasharray="1 1"/>
<rect x="306.07" y="64.20" width="0.85" height="22.80" fill="#3c3aa8"/>
<rect x="312.07" y="81.20" width="0.85" height="5.80" fill="#3c3aa8"/>
<rect x="313.77" y="69.50" width="0.85" height="17.50" fill="#3c3aa8"/>
<rect x="315.77" y="81.50" width="0.85" height="5.50" fill="#3c3aa8"/>
<rect x="319.77" y="41.70" width="0.85" height="45.30" fill="#3c3aa8"/>
<line x1="321.70" y1="70.00" x2="321.70" y2="81.50" stroke="#f0dcdc" stroke-width="0.7" stroke-dasharray="1 1"/>
<rect x="321.27" y="81.50" width="0.85" height="5.50" fill="#3c3aa8"/>
<rect x="326.07" y="80.00" width="0.85" height="7.00" fill="#3c3aa8"/>
<rect x="327.27" y="80.00" width="0.85" height="7.00" fill="#3c3aa8"/>
<rect x="330.27" y="85.20" width="0.85" height="1.80" fill="#3c3aa8"/>
<line x1="332.70" y1="71.00" x2="332.70" y2="77.00" stroke="#f0dcdc" stroke-width="0.7" stroke-dasharray="1 1"/>
<rect x="332.27" y="77.00" width="0.85" height="10.00" fill="#3c3aa8"/>
<line x1="334.20" y1="68.00" x2="334.20" y2="79.20" stroke="#f0dcdc" stroke-width="0.7" stroke-dasharray="1 1"/>
<rect x="333.77" y="79.20" width="0.85" height="7.80" fill="#3c3aa8"/>
<line x1="336.30" y1="18.50" x2="336.30" y2="22.20" stroke="#f0dcdc" stroke-width="0.7" stroke-dasharray="1 1"/>
<rect x="335.88" y="22.20" width="0.85" height="64.80" fill="#3c3aa8"/>
<rect x="340.77" y="83.70" width="0.85" height="3.30" fill="#3c3aa8"/>
<line x1="350.20" y1="70.20" x2="350.20" y2="72.50" stroke="#f0dcdc" stroke-width="0.7" stroke-dasharray="1 1"/>
<rect x="349.77" y="72.50" width="0.85" height="14.50" fill="#3c3aa8"/>
<line x1="352.20" y1="47.30" x2="352.20" y2="52.20" stroke="#f0dcdc" stroke-width="0.7" stroke-dasharray="1 1"/>
<rect x="351.77" y="52.20" width="0.85" height="34.80" fill="#3c3aa8"/>
<rect x="355.07" y="84.50" width="0.85" height="2.50" fill="#3c3aa8"/>
<rect x="365.77" y="84.20" width="0.85" height="2.80" fill="#3c3aa8"/>
<rect x="371.57" y="84.50" width="0.85" height="2.50" fill="#3c3aa8"/>
<rect x="380.77" y="84.50" width="0.85" height="2.50" fill="#3c3aa8"/>
<rect x="259.07" y="80.00" width="0.85" height="7.00" fill="#3c3aa8"/>
<rect x="267.35" y="57.50" width="0.9" height="29.50" fill="#a6a2d8"/>
<polygon points="266.30,87.00 267.80,84.50 269.30,87.00" fill="#3030c8"/>
<rect x="305.75" y="61.20" width="0.9" height="25.80" fill="#a6a2d8"/>
<polygon points="304.70,87.00 306.20,84.50 307.70,87.00" fill="#3030c8"/>
<rect x="335.85" y="41.70" width="0.9" height="45.30" fill="#a6a2d8"/>
<polygon points="334.80,87.00 336.30,84.50 337.80,87.00" fill="#3030c8"/>
<circle cx="260.30" cy="63.80" r="0.55" fill="#d87080"/>
<circle cx="266.30" cy="48.20" r="0.55" fill="#d87080"/>
<circle cx="268.20" cy="57.20" r="0.55" fill="#d87080"/>
<circle cx="288.20" cy="71.00" r="0.55" fill="#d87080"/>
<circle cx="298.50" cy="67.20" r="0.55" fill="#d87080"/>
<circle cx="303.50" cy="73.20" r="0.55" fill="#d87080"/>
<circle cx="305.00" cy="67.20" r="0.55" fill="#d87080"/>
<circle cx="306.50" cy="61.20" r="0.55" fill="#d87080"/>
<circle cx="314.20" cy="69.00" r="0.55" fill="#d87080"/>
<circle cx="321.70" cy="70.00" r="0.55" fill="#d87080"/>
<circle cx="332.70" cy="71.00" r="0.55" fill="#d87080"/>
<circle cx="334.20" cy="68.00" r="0.55" fill="#d87080"/>
<circle cx="336.30" cy="18.50" r="0.55" fill="#d87080"/>
<circle cx="350.20" cy="70.20" r="0.55" fill="#d87080"/>
<circle cx="352.20" cy="47.30" r="0.55" fill="#d87080"/>
<circle cx="267.80" cy="57.50" r="0.55" fill="#d87080"/>
<circle cx="306.20" cy="61.20" r="0.55" fill="#d87080"/>
<circle cx="336.30" cy="41.70" r="0.55" fill="#d87080"/>
<line x1="256.50" y1="86.60" x2="384.20" y2="86.60" stroke="#2424cc" stroke-width="1.4" />
<line x1="280.90" y1="103.30" x2="393.50" y2="103.30" stroke="#72abcc" stroke-width="1.1" />
<ellipse cx="280.90" cy="103.30" rx="3.4" ry="3.2" fill="#1f78c1"/>
<ellipse cx="293.09" cy="103.30" rx="3.4" ry="3.2" fill="#1f78c1"/>
<ellipse cx="305.28" cy="103.30" rx="3.4" ry="3.2" fill="#1f78c1"/>
<ellipse cx="317.47" cy="103.30" rx="3.4" ry="3.2" fill="#1f78c1"/>
<ellipse cx="329.66" cy="103.30" rx="3.4" ry="3.2" fill="#1f78c1"/>
<ellipse cx="341.85" cy="103.30" rx="3.4" ry="3.2" fill="#1f78c1"/>
<ellipse cx="354.04" cy="103.30" rx="3.4" ry="3.2" fill="#1f78c1"/>
<ellipse cx="366.23" cy="103.30" rx="3.4" ry="3.2" fill="#1f78c1"/>
<ellipse cx="378.42" cy="103.30" rx="3.4" ry="3.2" fill="#1f78c1"/>
<ellipse cx="390.61" cy="103.30" rx="3.4" ry="3.2" fill="#1f78c1"/>
<line x1="280.90" y1="95.30" x2="280.90" y2="108.80" stroke="#454545" stroke-width="1.5" />
<polygon points="278.70,107.80 283.10,107.80 280.90,111.30" fill="#454545"/>
<line x1="293.09" y1="97.80" x2="293.09" y2="111.30" stroke="#454545" stroke-width="1.5" />
<polygon points="290.89,98.80 295.29,98.80 293.09,95.30" fill="#454545"/>
<line x1="305.28" y1="97.80" x2="305.28" y2="111.30" stroke="#454545" stroke-width="1.5" />
<polygon points="303.08,98.80 307.48,98.80 305.28,95.30" fill="#454545"/>
<line x1="317.47" y1="95.30" x2="317.47" y2="108.80" stroke="#454545" stroke-width="1.5" />
<polygon points="315.27,107.80 319.67,107.80 317.47,111.30" fill="#454545"/>
<line x1="329.66" y1="97.80" x2="329.66" y2="111.30" stroke="#454545" stroke-width="1.5" />
<polygon points="327.46,98.80 331.86,98.80 329.66,95.30" fill="#454545"/>
<line x1="341.85" y1="95.30" x2="341.85" y2="108.80" stroke="#454545" stroke-width="1.5" />
<polygon points="339.65,107.80 344.05,107.80 341.85,111.30" fill="#454545"/>
<line x1="354.04" y1="97.80" x2="354.04" y2="111.30" stroke="#454545" stroke-width="1.5" />
<polygon points="351.84,98.80 356.24,98.80 354.04,95.30" fill="#454545"/>
<line x1="366.23" y1="95.30" x2="366.23" y2="108.80" stroke="#454545" stroke-width="1.5" />
<polygon points="364.03,107.80 368.43,107.80 366.23,111.30" fill="#454545"/>
<line x1="378.42" y1="97.80" x2="378.42" y2="111.30" stroke="#454545" stroke-width="1.5" />
<polygon points="376.22,98.80 380.62,98.80 378.42,95.30" fill="#454545"/>
<line x1="390.61" y1="95.30" x2="390.61" y2="108.80" stroke="#454545" stroke-width="1.5" />
<polygon points="388.41,107.80 392.81,107.80 390.61,111.30" fill="#454545"/>
<polygon points="384.20,95.00 388.20,99.50 386.40,99.50 386.40,133.00 382.00,133.00 382.00,99.50 380.20,99.50" fill="#1c5f7e"/>
<line x1="25.30" y1="174.30" x2="192.90" y2="174.30" stroke="#6a6a6a" stroke-width="1.5" />
<line x1="192.90" y1="174.30" x2="192.90" y2="309.00" stroke="#8a8a8a" stroke-width="1.0" />
<line x1="25.30" y1="174.30" x2="25.30" y2="309.00" stroke="#4a48b4" stroke-width="1.2" />
<line x1="23.10" y1="188.40" x2="25.30" y2="188.40" stroke="#555" stroke-width="0.9" />
<text transform="translate(21.20,191.70) scale(0.93,1)" font-size="9.844" text-anchor="end" font-weight="normal" font-style="normal" fill="#1a1a1a" stroke="#1a1a1a" stroke-width="0.12">0.020</text>
<line x1="23.10" y1="218.60" x2="25.30" y2="218.60" stroke="#555" stroke-width="0.9" />
<text transform="translate(21.20,221.90) scale(0.93,1)" font-size="9.844" text-anchor="end" font-weight="normal" font-style="normal" fill="#1a1a1a" stroke="#1a1a1a" stroke-width="0.12">0.015</text>
<line x1="23.10" y1="248.60" x2="25.30" y2="248.60" stroke="#555" stroke-width="0.9" />
<text transform="translate(21.20,251.90) scale(0.93,1)" font-size="9.844" text-anchor="end" font-weight="normal" font-style="normal" fill="#1a1a1a" stroke="#1a1a1a" stroke-width="0.12">0.010</text>
<line x1="23.10" y1="278.80" x2="25.30" y2="278.80" stroke="#555" stroke-width="0.9" />
<text transform="translate(21.20,282.10) scale(0.93,1)" font-size="9.844" text-anchor="end" font-weight="normal" font-style="normal" fill="#1a1a1a" stroke="#1a1a1a" stroke-width="0.12">0.005</text>
<line x1="23.10" y1="309.00" x2="25.30" y2="309.00" stroke="#555" stroke-width="0.9" />
<text transform="translate(21.20,312.30) scale(0.93,1)" font-size="9.844" text-anchor="end" font-weight="normal" font-style="normal" fill="#1a1a1a" stroke="#1a1a1a" stroke-width="0.12">0.000</text>
<line x1="23.80" y1="203.50" x2="25.30" y2="203.50" stroke="#666" stroke-width="0.8" />
<line x1="23.80" y1="233.60" x2="25.30" y2="233.60" stroke="#666" stroke-width="0.8" />
<line x1="23.80" y1="263.70" x2="25.30" y2="263.70" stroke="#666" stroke-width="0.8" />
<line x1="23.80" y1="293.90" x2="25.30" y2="293.90" stroke="#666" stroke-width="0.8" />
<line x1="25.30" y1="309.00" x2="25.30" y2="311.20" stroke="#555" stroke-width="0.9" />
<text x="25.30" y="320.90" font-size="8.8" text-anchor="middle" font-weight="normal" font-style="normal" fill="#1a1a1a" stroke="#1a1a1a" stroke-width="0.14">0.0</text>
<line x1="53.23" y1="309.00" x2="53.23" y2="311.20" stroke="#555" stroke-width="0.9" />
<text x="53.23" y="320.90" font-size="8.8" text-anchor="middle" font-weight="normal" font-style="normal" fill="#1a1a1a" stroke="#1a1a1a" stroke-width="0.14">0.5</text>
<line x1="81.17" y1="309.00" x2="81.17" y2="311.20" stroke="#555" stroke-width="0.9" />
<text x="81.17" y="320.90" font-size="8.8" text-anchor="middle" font-weight="normal" font-style="normal" fill="#1a1a1a" stroke="#1a1a1a" stroke-width="0.14">1.0</text>
<line x1="109.10" y1="309.00" x2="109.10" y2="311.20" stroke="#555" stroke-width="0.9" />
<text x="109.10" y="320.90" font-size="8.8" text-anchor="middle" font-weight="normal" font-style="normal" fill="#1a1a1a" stroke="#1a1a1a" stroke-width="0.14">1.5</text>
<line x1="137.03" y1="309.00" x2="137.03" y2="311.20" stroke="#555" stroke-width="0.9" />
<text x="137.03" y="320.90" font-size="8.8" text-anchor="middle" font-weight="normal" font-style="normal" fill="#1a1a1a" stroke="#1a1a1a" stroke-width="0.14">2.0</text>
<line x1="164.97" y1="309.00" x2="164.97" y2="311.20" stroke="#555" stroke-width="0.9" />
<text x="164.97" y="320.90" font-size="8.8" text-anchor="middle" font-weight="normal" font-style="normal" fill="#1a1a1a" stroke="#1a1a1a" stroke-width="0.14">2.5</text>
<line x1="192.90" y1="309.00" x2="192.90" y2="311.20" stroke="#555" stroke-width="0.9" />
<text x="192.90" y="320.90" font-size="8.8" text-anchor="middle" font-weight="normal" font-style="normal" fill="#1a1a1a" stroke="#1a1a1a" stroke-width="0.14">3.0</text>
<line x1="25.30" y1="174.30" x2="25.30" y2="309.00" stroke="#8a86c6" stroke-width="1.6" />
<text x="8.80" y="170.50" font-size="8.5" text-anchor="start" font-weight="bold" font-style="normal" fill="#1a1a1a" stroke="#1a1a1a" stroke-width="0.22">F(k)</text>
<polyline points="81.2,309 81.2,301.0 137.1,301.0 137.1,309" fill="none" stroke="#b4b4b4" stroke-width="0.8" stroke-dasharray="1 1"/>
<polygon points="30.40,309.00 32.00,305.50 33.60,309.00" fill="#2828cc"/>
<polygon points="35.10,309.00 36.70,305.50 38.30,309.00" fill="#2828cc"/>
<polygon points="39.90,309.00 41.50,305.50 43.10,309.00" fill="#2828cc"/>
<polygon points="42.40,309.00 44.00,305.50 45.60,309.00" fill="#2828cc"/>
<polygon points="51.90,309.00 53.50,305.50 55.10,309.00" fill="#2828cc"/>
<polygon points="53.10,309.00 54.70,305.50 56.30,309.00" fill="#2828cc"/>
<polygon points="55.20,309.00 56.80,305.50 58.40,309.00" fill="#2828cc"/>
<polygon points="57.60,309.00 59.20,305.50 60.80,309.00" fill="#2828cc"/>
<polygon points="60.10,309.00 61.70,305.50 63.30,309.00" fill="#2828cc"/>
<polygon points="64.60,309.00 66.20,305.50 67.80,309.00" fill="#2828cc"/>
<polygon points="71.40,309.00 73.00,305.50 74.60,309.00" fill="#2828cc"/>
<polygon points="75.60,309.00 77.20,305.50 78.80,309.00" fill="#2828cc"/>
<polygon points="79.10,309.00 80.70,305.50 82.30,309.00" fill="#2828cc"/>
<polygon points="85.10,309.00 86.70,305.50 88.30,309.00" fill="#2828cc"/>
<polygon points="92.10,309.00 93.70,305.50 95.30,309.00" fill="#2828cc"/>
<polygon points="94.40,309.00 96.00,305.50 97.60,309.00" fill="#2828cc"/>
<polygon points="96.60,309.00 98.20,305.50 99.80,309.00" fill="#2828cc"/>
<polygon points="99.60,309.00 101.20,305.50 102.80,309.00" fill="#2828cc"/>
<polygon points="102.60,309.00 104.20,305.50 105.80,309.00" fill="#2828cc"/>
<polygon points="104.10,309.00 105.70,305.50 107.30,309.00" fill="#2828cc"/>
<polygon points="108.20,309.00 109.80,305.50 111.40,309.00" fill="#2828cc"/>
<polygon points="112.40,309.00 114.00,305.50 115.60,309.00" fill="#2828cc"/>
<polygon points="119.90,309.00 121.50,305.50 123.10,309.00" fill="#2828cc"/>
<polygon points="127.10,309.00 128.70,305.50 130.30,309.00" fill="#2828cc"/>
<polygon points="129.60,309.00 131.20,305.50 132.80,309.00" fill="#2828cc"/>
<polygon points="131.60,309.00 133.20,305.50 134.80,309.00" fill="#2828cc"/>
<polygon points="133.70,309.00 135.30,305.50 136.90,309.00" fill="#2828cc"/>
<polygon points="136.20,309.00 137.80,305.50 139.40,309.00" fill="#2828cc"/>
<polygon points="140.40,309.00 142.00,305.50 143.60,309.00" fill="#2828cc"/>
<line x1="32.00" y1="282.20" x2="32.00" y2="291.20" stroke="#f0dcdc" stroke-width="0.7" stroke-dasharray="1 1"/>
<rect x="31.45" y="291.20" width="1.1" height="17.80" fill="#3a36c0"/>
<line x1="36.70" y1="266.20" x2="36.70" y2="275.50" stroke="#f0dcdc" stroke-width="0.7" stroke-dasharray="1 1"/>
<rect x="36.15" y="275.50" width="1.1" height="33.50" fill="#3a36c0"/>
<rect x="40.95" y="301.70" width="1.1" height="7.30" fill="#3a36c0"/>
<rect x="43.45" y="285.20" width="1.1" height="23.80" fill="#3a36c0"/>
<rect x="52.95" y="302.50" width="1.1" height="6.50" fill="#3a36c0"/>
<rect x="53.85" y="268.70" width="1.7" height="40.30" fill="#7e78c4"/>
<rect x="55.95" y="280.30" width="1.7" height="28.70" fill="#7e78c4"/>
<rect x="58.65" y="292.00" width="1.1" height="17.00" fill="#3a36c0"/>
<line x1="61.70" y1="216.80" x2="61.70" y2="243.50" stroke="#f0dcdc" stroke-width="0.7" stroke-dasharray="1 1"/>
<rect x="60.85" y="243.50" width="1.7" height="65.50" fill="#7e78c4"/>
<rect x="65.65" y="297.20" width="1.1" height="11.80" fill="#3a36c0"/>
<line x1="73.00" y1="272.80" x2="73.00" y2="277.00" stroke="#f0dcdc" stroke-width="0.7" stroke-dasharray="1 1"/>
<rect x="72.45" y="277.00" width="1.1" height="32.00" fill="#3a36c0"/>
<rect x="76.65" y="294.70" width="1.1" height="14.30" fill="#3a36c0"/>
<rect x="79.85" y="293.50" width="1.7" height="15.50" fill="#7e78c4"/>
<rect x="86.15" y="301.00" width="1.1" height="8.00" fill="#3a36c0"/>
<line x1="93.70" y1="290.20" x2="93.70" y2="296.50" stroke="#f0dcdc" stroke-width="0.7" stroke-dasharray="1 1"/>
<rect x="93.15" y="296.50" width="1.1" height="12.50" fill="#3a36c0"/>
<rect x="95.15" y="298.00" width="1.7" height="11.00" fill="#7e78c4"/>
<rect x="97.65" y="295.70" width="1.1" height="13.30" fill="#3a36c0"/>
<rect x="100.35" y="286.70" width="1.7" height="22.30" fill="#7e78c4"/>
<rect x="103.65" y="301.00" width="1.1" height="8.00" fill="#3a36c0"/>
<rect x="105.15" y="298.70" width="1.1" height="10.30" fill="#3a36c0"/>
<rect x="108.95" y="285.20" width="1.7" height="23.80" fill="#7e78c4"/>
<rect x="113.15" y="299.50" width="1.7" height="9.50" fill="#7e78c4"/>
<rect x="120.65" y="302.50" width="1.7" height="6.50" fill="#7e78c4"/>
<rect x="128.15" y="304.00" width="1.1" height="5.00" fill="#3a36c0"/>
<rect x="130.35" y="302.50" width="1.7" height="6.50" fill="#7e78c4"/>
<rect x="132.65" y="304.00" width="1.1" height="5.00" fill="#3a36c0"/>
<rect x="134.45" y="300.20" width="1.7" height="8.80" fill="#7e78c4"/>
<rect x="137.25" y="294.20" width="1.1" height="14.80" fill="#3a36c0"/>
<rect x="141.45" y="302.50" width="1.1" height="6.50" fill="#3a36c0"/>
<rect x="27.25" y="305.50" width="0.9" height="3.50" fill="#a6a2d8"/>
<polygon points="26.20,309.00 27.70,306.50 29.20,309.00" fill="#3030c8"/>
<rect x="28.75" y="305.50" width="0.9" height="3.50" fill="#a6a2d8"/>
<polygon points="27.70,309.00 29.20,306.50 30.70,309.00" fill="#3030c8"/>
<rect x="31.55" y="301.70" width="0.9" height="7.30" fill="#a6a2d8"/>
<polygon points="30.50,309.00 32.00,306.50 33.50,309.00" fill="#3030c8"/>
<rect x="37.75" y="304.40" width="0.9" height="4.60" fill="#a6a2d8"/>
<polygon points="36.70,309.00 38.20,306.50 39.70,309.00" fill="#3030c8"/>
<rect x="44.35" y="300.20" width="0.9" height="8.80" fill="#a6a2d8"/>
<polygon points="43.30,309.00 44.80,306.50 46.30,309.00" fill="#3030c8"/>
<rect x="47.05" y="303.20" width="0.9" height="5.80" fill="#a6a2d8"/>
<polygon points="46.00,309.00 47.50,306.50 49.00,309.00" fill="#3030c8"/>
<rect x="50.05" y="305.50" width="0.9" height="3.50" fill="#a6a2d8"/>
<polygon points="49.00,309.00 50.50,306.50 52.00,309.00" fill="#3030c8"/>
<rect x="60.85" y="298.00" width="0.9" height="11.00" fill="#a6a2d8"/>
<polygon points="59.80,309.00 61.30,306.50 62.80,309.00" fill="#3030c8"/>
<rect x="69.25" y="304.30" width="0.9" height="4.70" fill="#a6a2d8"/>
<polygon points="68.20,309.00 69.70,306.50 71.20,309.00" fill="#3030c8"/>
<rect x="72.55" y="302.20" width="0.9" height="6.80" fill="#a6a2d8"/>
<polygon points="71.50,309.00 73.00,306.50 74.50,309.00" fill="#3030c8"/>
<rect x="82.75" y="305.50" width="0.9" height="3.50" fill="#a6a2d8"/>
<polygon points="81.70,309.00 83.20,306.50 84.70,309.00" fill="#3030c8"/>
<rect x="88.75" y="302.50" width="0.9" height="6.50" fill="#a6a2d8"/>
<polygon points="87.70,309.00 89.20,306.50 90.70,309.00" fill="#3030c8"/>
<rect x="102.25" y="298.70" width="0.9" height="10.30" fill="#a6a2d8"/>
<polygon points="101.20,309.00 102.70,306.50 104.20,309.00" fill="#3030c8"/>
<rect x="106.75" y="304.00" width="0.9" height="5.00" fill="#a6a2d8"/>
<polygon points="105.70,309.00 107.20,306.50 108.70,309.00" fill="#3030c8"/>
<rect x="125.25" y="306.20" width="0.9" height="2.80" fill="#a6a2d8"/>
<polygon points="124.20,309.00 125.70,306.50 127.20,309.00" fill="#3030c8"/>
<rect x="127.05" y="304.00" width="0.9" height="5.00" fill="#a6a2d8"/>
<polygon points="126.00,309.00 127.50,306.50 129.00,309.00" fill="#3030c8"/>
<rect x="141.55" y="304.70" width="0.9" height="4.30" fill="#a6a2d8"/>
<polygon points="140.50,309.00 142.00,306.50 143.50,309.00" fill="#3030c8"/>
<rect x="157.25" y="304.70" width="0.9" height="4.30" fill="#a6a2d8"/>
<polygon points="156.20,309.00 157.70,306.50 159.20,309.00" fill="#3030c8"/>
<rect x="164.05" y="305.50" width="0.9" height="3.50" fill="#a6a2d8"/>
<polygon points="163.00,309.00 164.50,306.50 166.00,309.00" fill="#3030c8"/>
<rect x="169.75" y="305.50" width="0.9" height="3.50" fill="#a6a2d8"/>
<polygon points="168.70,309.00 170.20,306.50 171.70,309.00" fill="#3030c8"/>
<circle cx="32.00" cy="282.20" r="1.0" fill="#dc3a48"/>
<circle cx="36.70" cy="266.20" r="1.0" fill="#dc3a48"/>
<circle cx="41.50" cy="301.70" r="1.0" fill="#dc3a48"/>
<circle cx="44.00" cy="285.20" r="1.0" fill="#dc3a48"/>
<circle cx="53.50" cy="302.50" r="1.0" fill="#dc3a48"/>
<circle cx="54.70" cy="268.70" r="1.0" fill="#dc3a48"/>
<circle cx="56.80" cy="280.30" r="1.0" fill="#dc3a48"/>
<circle cx="59.20" cy="292.00" r="1.0" fill="#dc3a48"/>
<circle cx="61.70" cy="216.80" r="1.0" fill="#dc3a48"/>
<circle cx="66.20" cy="297.20" r="1.0" fill="#dc3a48"/>
<circle cx="73.00" cy="272.80" r="1.0" fill="#dc3a48"/>
<circle cx="77.20" cy="294.70" r="1.0" fill="#dc3a48"/>
<circle cx="80.70" cy="293.00" r="1.0" fill="#dc3a48"/>
<circle cx="86.70" cy="301.00" r="1.0" fill="#dc3a48"/>
<circle cx="93.70" cy="290.20" r="1.0" fill="#dc3a48"/>
<circle cx="96.00" cy="298.00" r="1.0" fill="#dc3a48"/>
<circle cx="98.20" cy="295.70" r="1.0" fill="#dc3a48"/>
<circle cx="101.20" cy="286.70" r="1.0" fill="#dc3a48"/>
<circle cx="104.20" cy="301.00" r="1.0" fill="#dc3a48"/>
<circle cx="105.70" cy="298.70" r="1.0" fill="#dc3a48"/>
<circle cx="109.80" cy="285.20" r="1.0" fill="#dc3a48"/>
<circle cx="114.00" cy="299.50" r="1.0" fill="#dc3a48"/>
<circle cx="121.50" cy="303.20" r="1.0" fill="#dc3a48"/>
<circle cx="128.70" cy="304.00" r="1.0" fill="#dc3a48"/>
<circle cx="131.20" cy="302.50" r="1.0" fill="#dc3a48"/>
<circle cx="133.20" cy="304.00" r="1.0" fill="#dc3a48"/>
<circle cx="135.30" cy="300.20" r="1.0" fill="#dc3a48"/>
<circle cx="137.80" cy="294.20" r="1.0" fill="#dc3a48"/>
<circle cx="142.00" cy="301.70" r="1.0" fill="#dc3a48"/>
<circle cx="27.70" cy="305.50" r="1.0" fill="#dc3a48"/>
<circle cx="29.20" cy="305.50" r="1.0" fill="#dc3a48"/>
<circle cx="32.00" cy="301.70" r="1.0" fill="#dc3a48"/>
<circle cx="38.20" cy="304.40" r="1.0" fill="#dc3a48"/>
<circle cx="44.80" cy="300.20" r="1.0" fill="#dc3a48"/>
<circle cx="47.50" cy="303.20" r="1.0" fill="#dc3a48"/>
<circle cx="50.50" cy="305.50" r="1.0" fill="#dc3a48"/>
<circle cx="61.30" cy="298.00" r="1.0" fill="#dc3a48"/>
<circle cx="69.70" cy="304.30" r="1.0" fill="#dc3a48"/>
<circle cx="73.00" cy="302.20" r="1.0" fill="#dc3a48"/>
<circle cx="83.20" cy="305.50" r="1.0" fill="#dc3a48"/>
<circle cx="89.20" cy="302.50" r="1.0" fill="#dc3a48"/>
<circle cx="102.70" cy="298.70" r="1.0" fill="#dc3a48"/>
<circle cx="107.20" cy="304.00" r="1.0" fill="#dc3a48"/>
<circle cx="125.70" cy="306.20" r="1.0" fill="#dc3a48"/>
<circle cx="127.50" cy="304.00" r="1.0" fill="#dc3a48"/>
<circle cx="142.00" cy="304.70" r="1.0" fill="#dc3a48"/>
<circle cx="157.70" cy="304.70" r="1.0" fill="#dc3a48"/>
<circle cx="164.50" cy="305.50" r="1.0" fill="#dc3a48"/>
<circle cx="170.20" cy="305.50" r="1.0" fill="#dc3a48"/>
<line x1="25.30" y1="308.60" x2="192.90" y2="308.60" stroke="#3636c4" stroke-width="1.1" />
<text x="29.40" y="242.50" font-size="11.2" text-anchor="start" font-weight="normal" font-style="normal" fill="#000" stroke="#000" stroke-width="0.3">(c)</text>
<rect x="67.0" y="176.7" width="123.4" height="91.5" fill="#fff" stroke="#a0a0a0" stroke-width="1"/>
<rect x="185.8" y="176.7" width="4.599999999999994" height="91.5" fill="#fbfbfb"/>
<line x1="190.40" y1="176.70" x2="190.40" y2="268.20" stroke="#8c8c8c" stroke-width="1.0" />
<line x1="67.30" y1="176.70" x2="67.30" y2="268.20" stroke="#9a9a9a" stroke-width="1.8" />
<line x1="85.30" y1="178.90" x2="186.30" y2="178.90" stroke="#858585" stroke-width="1.1" />
<line x1="85.30" y1="179.20" x2="85.30" y2="260.00" stroke="#707070" stroke-width="0.9" />
<line x1="185.80" y1="179.20" x2="185.80" y2="260.00" stroke="#8a8a8a" stroke-width="1.0" />
<line x1="83.80" y1="178.80" x2="85.30" y2="178.80" stroke="#555" stroke-width="0.7" />
<text x="83.60" y="180.80" font-size="5.1" text-anchor="end" font-weight="normal" font-style="normal" fill="#333" stroke="#333" stroke-width="0.05">0.0015</text>
<line x1="83.80" y1="206.20" x2="85.30" y2="206.20" stroke="#555" stroke-width="0.7" />
<text x="83.60" y="208.20" font-size="5.1" text-anchor="end" font-weight="normal" font-style="normal" fill="#333" stroke="#333" stroke-width="0.05">0.0010</text>
<line x1="83.80" y1="233.40" x2="85.30" y2="233.40" stroke="#555" stroke-width="0.7" />
<text x="83.60" y="235.40" font-size="5.1" text-anchor="end" font-weight="normal" font-style="normal" fill="#333" stroke="#333" stroke-width="0.05">0.0005</text>
<line x1="83.80" y1="260.00" x2="85.30" y2="260.00" stroke="#555" stroke-width="0.7" />
<text x="83.60" y="262.00" font-size="5.1" text-anchor="end" font-weight="normal" font-style="normal" fill="#333" stroke="#333" stroke-width="0.05">0.0000</text>
<line x1="85.30" y1="260.00" x2="85.30" y2="261.50" stroke="#555" stroke-width="0.7" />
<text x="86.80" y="266.90" font-size="5.0" text-anchor="middle" font-weight="normal" font-style="normal" fill="#333" stroke="#333" stroke-width="0.05">1.0</text>
<line x1="105.40" y1="260.00" x2="105.40" y2="261.50" stroke="#555" stroke-width="0.7" />
<text x="105.30" y="266.90" font-size="5.0" text-anchor="middle" font-weight="normal" font-style="normal" fill="#333" stroke="#333" stroke-width="0.05">1.2</text>
<line x1="125.50" y1="260.00" x2="125.50" y2="261.50" stroke="#555" stroke-width="0.7" />
<text x="125.20" y="266.90" font-size="5.0" text-anchor="middle" font-weight="normal" font-style="normal" fill="#333" stroke="#333" stroke-width="0.05">1.4</text>
<line x1="145.60" y1="260.00" x2="145.60" y2="261.50" stroke="#555" stroke-width="0.7" />
<text x="145.30" y="266.90" font-size="5.0" text-anchor="middle" font-weight="normal" font-style="normal" fill="#333" stroke="#333" stroke-width="0.05">1.6</text>
<line x1="165.70" y1="260.00" x2="165.70" y2="261.50" stroke="#555" stroke-width="0.7" />
<text x="165.50" y="266.90" font-size="5.0" text-anchor="middle" font-weight="normal" font-style="normal" fill="#333" stroke="#333" stroke-width="0.05">1.8</text>
<line x1="185.80" y1="260.00" x2="185.80" y2="261.50" stroke="#555" stroke-width="0.7" />
<text x="185.30" y="266.90" font-size="5.0" text-anchor="middle" font-weight="normal" font-style="normal" fill="#333" stroke="#333" stroke-width="0.05">2.0</text>
<line x1="87.20" y1="224.80" x2="87.20" y2="226.70" stroke="#f0dcdc" stroke-width="0.7" stroke-dasharray="1 1"/>
<rect x="86.65" y="226.70" width="1.1" height="33.30" fill="#36368e"/>
<line x1="90.50" y1="227.20" x2="90.50" y2="238.00" stroke="#f0dcdc" stroke-width="0.7" stroke-dasharray="1 1"/>
<rect x="89.95" y="238.00" width="1.1" height="22.00" fill="#7c7ac0"/>
<rect x="94.45" y="179.20" width="1.1" height="80.80" fill="#7c7ac0"/>
<line x1="100.20" y1="197.20" x2="100.20" y2="210.70" stroke="#f0dcdc" stroke-width="0.7" stroke-dasharray="1 1"/>
<rect x="99.65" y="210.70" width="1.1" height="49.30" fill="#36368e"/>
<rect x="106.85" y="179.20" width="1.1" height="80.80" fill="#36368e"/>
<rect x="111.45" y="179.20" width="1.1" height="80.80" fill="#5450b4"/>
<rect x="112.35" y="179.20" width="1.1" height="80.80" fill="#5450b4"/>
<rect x="115.45" y="179.20" width="1.1" height="80.80" fill="#5450b4"/>
<rect x="120.65" y="179.20" width="1.1" height="80.80" fill="#7c7ac0"/>
<rect x="123.65" y="179.20" width="1.1" height="80.80" fill="#5450b4"/>
<rect x="128.15" y="179.20" width="1.1" height="80.80" fill="#7c7ac0"/>
<line x1="131.70" y1="222.20" x2="131.70" y2="234.20" stroke="#f0dcdc" stroke-width="0.7" stroke-dasharray="1 1"/>
<rect x="131.15" y="234.20" width="1.1" height="25.80" fill="#7c7ac0"/>
<rect x="136.45" y="179.20" width="1.1" height="80.80" fill="#5450b4"/>
<rect x="137.25" y="179.20" width="1.1" height="80.80" fill="#5450b4"/>
<rect x="143.95" y="179.20" width="1.1" height="80.80" fill="#7c7ac0"/>
<rect x="141.65" y="250.00" width="1.1" height="10.00" fill="#36368e"/>
<rect x="145.15" y="250.70" width="1.1" height="9.30" fill="#36368e"/>
<rect x="147.65" y="247.70" width="1.1" height="12.30" fill="#36368e"/>
<rect x="153.65" y="253.70" width="1.1" height="6.30" fill="#36368e"/>
<line x1="157.50" y1="204.00" x2="157.50" y2="216.00" stroke="#f0dcdc" stroke-width="0.7" stroke-dasharray="1 1"/>
<rect x="156.95" y="216.00" width="1.1" height="44.00" fill="#36368e"/>
<rect x="158.65" y="254.50" width="1.1" height="5.50" fill="#36368e"/>
<rect x="160.75" y="250.00" width="1.1" height="10.00" fill="#36368e"/>
<rect x="162.65" y="238.70" width="1.1" height="21.30" fill="#36368e"/>
<rect x="164.45" y="231.20" width="1.1" height="28.80" fill="#7c7ac0"/>
<line x1="166.20" y1="226.70" x2="166.20" y2="235.00" stroke="#f0dcdc" stroke-width="0.7" stroke-dasharray="1 1"/>
<rect x="165.65" y="235.00" width="1.1" height="25.00" fill="#7c7ac0"/>
<line x1="169.20" y1="216.00" x2="169.20" y2="222.00" stroke="#f0dcdc" stroke-width="0.7" stroke-dasharray="1 1"/>
<rect x="168.65" y="222.00" width="1.1" height="38.00" fill="#36368e"/>
<rect x="170.15" y="249.20" width="1.1" height="10.80" fill="#36368e"/>
<line x1="174.80" y1="201.00" x2="174.80" y2="204.70" stroke="#f0dcdc" stroke-width="0.7" stroke-dasharray="1 1"/>
<rect x="174.25" y="204.70" width="1.1" height="55.30" fill="#7c7ac0"/>
<line x1="177.80" y1="189.70" x2="177.80" y2="216.70" stroke="#f0dcdc" stroke-width="0.7" stroke-dasharray="1 1"/>
<rect x="177.25" y="216.70" width="1.1" height="43.30" fill="#7c7ac0"/>
<rect x="179.95" y="251.50" width="1.1" height="8.50" fill="#36368e"/>
<rect x="181.85" y="181.50" width="1.1" height="78.50" fill="#36368e"/>
<rect x="184.45" y="255.20" width="1.1" height="4.80" fill="#36368e"/>
<rect x="87.95" y="254.00" width="1.1" height="6.00" fill="#36368e"/>
<rect x="96.45" y="252.00" width="1.1" height="8.00" fill="#36368e"/>
<rect x="101.95" y="254.00" width="1.1" height="6.00" fill="#36368e"/>
<rect x="108.45" y="253.00" width="1.1" height="7.00" fill="#36368e"/>
<rect x="117.45" y="254.00" width="1.1" height="6.00" fill="#36368e"/>
<rect x="125.45" y="254.00" width="1.1" height="6.00" fill="#36368e"/>
<rect x="132.95" y="253.00" width="1.1" height="7.00" fill="#36368e"/>
<rect x="138.45" y="254.00" width="1.1" height="6.00" fill="#36368e"/>
<circle cx="87.20" cy="224.80" r="0.55" fill="#d88890"/>
<circle cx="90.50" cy="227.20" r="0.55" fill="#d88890"/>
<circle cx="95.00" cy="185.20" r="0.55" fill="#d88890"/>
<circle cx="100.20" cy="197.20" r="0.55" fill="#d88890"/>
<circle cx="116.00" cy="188.20" r="0.55" fill="#d88890"/>
<circle cx="124.20" cy="192.70" r="0.55" fill="#d88890"/>
<circle cx="128.70" cy="216.70" r="0.55" fill="#d88890"/>
<circle cx="131.70" cy="222.20" r="0.55" fill="#d88890"/>
<circle cx="157.50" cy="204.00" r="0.55" fill="#d88890"/>
<circle cx="165.00" cy="229.70" r="0.55" fill="#d88890"/>
<circle cx="166.20" cy="226.70" r="0.55" fill="#d88890"/>
<circle cx="169.20" cy="216.00" r="0.55" fill="#d88890"/>
<circle cx="174.80" cy="201.00" r="0.55" fill="#d88890"/>
<circle cx="177.80" cy="189.70" r="0.55" fill="#d88890"/>
<circle cx="100.20" cy="215.70" r="0.55" fill="#d88890"/>
<circle cx="131.60" cy="222.30" r="0.55" fill="#d88890"/>
<circle cx="169.20" cy="223.00" r="0.55" fill="#d88890"/>
<polygon points="86.00,260 87.20,253 88.40,260" fill="#2222cc"/>
<polygon points="89.30,260 90.50,253 91.70,260" fill="#2222cc"/>
<polygon points="93.80,260 95.00,253 96.20,260" fill="#2222cc"/>
<polygon points="99.00,260 100.20,253 101.40,260" fill="#2222cc"/>
<polygon points="106.20,260 107.40,253 108.60,260" fill="#2222cc"/>
<polygon points="110.80,260 112.00,253 113.20,260" fill="#2222cc"/>
<polygon points="114.80,260 116.00,253 117.20,260" fill="#2222cc"/>
<polygon points="120.00,260 121.20,253 122.40,260" fill="#2222cc"/>
<polygon points="123.00,260 124.20,253 125.40,260" fill="#2222cc"/>
<polygon points="127.50,260 128.70,253 129.90,260" fill="#2222cc"/>
<polygon points="130.50,260 131.70,253 132.90,260" fill="#2222cc"/>
<polygon points="135.80,260 137.00,253 138.20,260" fill="#2222cc"/>
<polygon points="143.30,260 144.50,253 145.70,260" fill="#2222cc"/>
<polygon points="156.30,260 157.50,253 158.70,260" fill="#2222cc"/>
<polygon points="162.00,260 163.20,253 164.40,260" fill="#2222cc"/>
<polygon points="163.80,260 165.00,253 166.20,260" fill="#2222cc"/>
<polygon points="165.00,260 166.20,253 167.40,260" fill="#2222cc"/>
<polygon points="168.00,260 169.20,253 170.40,260" fill="#2222cc"/>
<polygon points="173.60,260 174.80,253 176.00,260" fill="#2222cc"/>
<polygon points="176.60,260 177.80,253 179.00,260" fill="#2222cc"/>
<polygon points="181.20,260 182.40,253 183.60,260" fill="#2222cc"/>
<line x1="85.30" y1="259.40" x2="185.80" y2="259.40" stroke="#2424cc" stroke-width="1.5" />
<line x1="81.00" y1="279.70" x2="185.13" y2="279.70" stroke="#72abcc" stroke-width="1.1" />
<ellipse cx="81.00" cy="279.70" rx="3.4" ry="3.2" fill="#1f78c1"/>
<ellipse cx="92.57" cy="279.70" rx="3.4" ry="3.2" fill="#1f78c1"/>
<ellipse cx="104.14" cy="279.70" rx="3.4" ry="3.2" fill="#1f78c1"/>
<ellipse cx="115.71" cy="279.70" rx="3.4" ry="3.2" fill="#1f78c1"/>
<ellipse cx="127.28" cy="279.70" rx="3.4" ry="3.2" fill="#1f78c1"/>
<ellipse cx="138.85" cy="279.70" rx="3.4" ry="3.2" fill="#1f78c1"/>
<ellipse cx="150.42" cy="279.70" rx="3.4" ry="3.2" fill="#1f78c1"/>
<ellipse cx="161.99" cy="279.70" rx="3.4" ry="3.2" fill="#1f78c1"/>
<ellipse cx="173.56" cy="279.70" rx="3.4" ry="3.2" fill="#1f78c1"/>
<ellipse cx="185.13" cy="279.70" rx="3.4" ry="3.2" fill="#1f78c1"/>
<line x1="81.00" y1="271.70" x2="81.00" y2="285.20" stroke="#454545" stroke-width="1.5" />
<polygon points="78.80,284.20 83.20,284.20 81.00,287.70" fill="#454545"/>
<line x1="92.57" y1="274.20" x2="92.57" y2="287.70" stroke="#454545" stroke-width="1.5" />
<polygon points="90.37,275.20 94.77,275.20 92.57,271.70" fill="#454545"/>
<line x1="104.14" y1="271.70" x2="104.14" y2="285.20" stroke="#454545" stroke-width="1.5" />
<polygon points="101.94,284.20 106.34,284.20 104.14,287.70" fill="#454545"/>
<line x1="115.71" y1="274.20" x2="115.71" y2="287.70" stroke="#454545" stroke-width="1.5" />
<polygon points="113.51,275.20 117.91,275.20 115.71,271.70" fill="#454545"/>
<line x1="127.28" y1="271.70" x2="127.28" y2="285.20" stroke="#454545" stroke-width="1.5" />
<polygon points="125.08,284.20 129.48,284.20 127.28,287.70" fill="#454545"/>
<line x1="138.85" y1="274.20" x2="138.85" y2="287.70" stroke="#454545" stroke-width="1.5" />
<polygon points="136.65,275.20 141.05,275.20 138.85,271.70" fill="#454545"/>
<line x1="150.42" y1="274.20" x2="150.42" y2="287.70" stroke="#454545" stroke-width="1.5" />
<polygon points="148.22,275.20 152.62,275.20 150.42,271.70" fill="#454545"/>
<line x1="161.99" y1="271.70" x2="161.99" y2="285.20" stroke="#454545" stroke-width="1.5" />
<polygon points="159.79,284.20 164.19,284.20 161.99,287.70" fill="#454545"/>
<line x1="173.56" y1="274.20" x2="173.56" y2="287.70" stroke="#454545" stroke-width="1.5" />
<polygon points="171.36,275.20 175.76,275.20 173.56,271.70" fill="#454545"/>
<line x1="185.13" y1="271.70" x2="185.13" y2="285.20" stroke="#454545" stroke-width="1.5" />
<polygon points="182.93,284.20 187.33,284.20 185.13,287.70" fill="#454545"/>
<polygon points="118.20,267.80 122.20,272.30 120.40,272.30 120.40,301.00 116.00,301.00 116.00,272.30 114.20,272.30" fill="#1c5f7e"/>
<text x="103.40" y="330.60" font-size="12.5" text-anchor="start" font-weight="normal" font-style="italic" fill="#1a1a1a" stroke="#1a1a1a" stroke-width="0.1">x</text>
<text x="109.60" y="333.80" font-size="9.5" text-anchor="start" font-weight="normal" font-style="italic" fill="#1a1a1a" stroke="#1a1a1a" stroke-width="0.1">k</text>
<line x1="226.70" y1="174.50" x2="394.40" y2="174.50" stroke="#505050" stroke-width="1.3" />
<line x1="394.40" y1="174.50" x2="394.40" y2="309.30" stroke="#505050" stroke-width="1.3" />
<line x1="226.70" y1="174.50" x2="226.70" y2="309.30" stroke="#505050" stroke-width="1.0" />
<text x="209.60" y="171.00" font-size="8.4" text-anchor="start" font-weight="bold" font-style="normal" fill="#1a1a1a" stroke="#1a1a1a" stroke-width="0.22">lg[F(k)]</text>
<text x="224.20" y="182.20" font-size="9.3" text-anchor="end" font-weight="normal" font-style="normal" fill="#1a1a1a" stroke="#1a1a1a" stroke-width="0.22">0.2</text>
<text x="217.50" y="198.40" font-size="9.3" text-anchor="end" font-weight="normal" font-style="normal" fill="#1a1a1a" stroke="#1a1a1a" stroke-width="0.22">10</text>
<text x="217.80" y="193.80" font-size="5.6" text-anchor="start" font-weight="normal" font-style="normal" fill="#1a1a1a" stroke="#1a1a1a" stroke-width="0.22">-1</text>
<text x="217.50" y="266.00" font-size="9.3" text-anchor="end" font-weight="normal" font-style="normal" fill="#1a1a1a" stroke="#1a1a1a" stroke-width="0.22">10</text>
<text x="217.80" y="261.40" font-size="5.6" text-anchor="start" font-weight="normal" font-style="normal" fill="#1a1a1a" stroke="#1a1a1a" stroke-width="0.22">-2</text>
<text x="224.20" y="312.50" font-size="9.3" text-anchor="end" font-weight="normal" font-style="normal" fill="#1a1a1a" stroke="#1a1a1a" stroke-width="0.22">0.002</text>
<line x1="224.20" y1="195.64" x2="226.70" y2="195.64" stroke="#444" stroke-width="1" />
<line x1="224.20" y1="262.54" x2="226.70" y2="262.54" stroke="#444" stroke-width="1" />
<line x1="224.20" y1="309.30" x2="226.70" y2="309.30" stroke="#444" stroke-width="1" />
<line x1="225.30" y1="297.52" x2="226.70" y2="297.52" stroke="#555" stroke-width="0.8" />
<line x1="225.30" y1="289.16" x2="226.70" y2="289.16" stroke="#555" stroke-width="0.8" />
<line x1="225.30" y1="282.68" x2="226.70" y2="282.68" stroke="#555" stroke-width="0.8" />
<line x1="225.30" y1="277.38" x2="226.70" y2="277.38" stroke="#555" stroke-width="0.8" />
<line x1="225.30" y1="272.90" x2="226.70" y2="272.90" stroke="#555" stroke-width="0.8" />
<line x1="225.30" y1="269.02" x2="226.70" y2="269.02" stroke="#555" stroke-width="0.8" />
<line x1="225.30" y1="265.60" x2="226.70" y2="265.60" stroke="#555" stroke-width="0.8" />
<line x1="225.30" y1="242.40" x2="226.70" y2="242.40" stroke="#555" stroke-width="0.8" />
<line x1="225.30" y1="230.62" x2="226.70" y2="230.62" stroke="#555" stroke-width="0.8" />
<line x1="225.30" y1="222.26" x2="226.70" y2="222.26" stroke="#555" stroke-width="0.8" />
<line x1="225.30" y1="215.78" x2="226.70" y2="215.78" stroke="#555" stroke-width="0.8" />
<line x1="225.30" y1="210.48" x2="226.70" y2="210.48" stroke="#555" stroke-width="0.8" />
<line x1="225.30" y1="206.00" x2="226.70" y2="206.00" stroke="#555" stroke-width="0.8" />
<line x1="225.30" y1="202.12" x2="226.70" y2="202.12" stroke="#555" stroke-width="0.8" />
<line x1="225.30" y1="198.70" x2="226.70" y2="198.70" stroke="#555" stroke-width="0.8" />
<line x1="225.30" y1="175.50" x2="226.70" y2="175.50" stroke="#555" stroke-width="0.8" />
<line x1="226.30" y1="309.30" x2="226.30" y2="311.80" stroke="#444" stroke-width="1" />
<text x="226.30" y="321.30" font-size="9.3" text-anchor="middle" font-weight="normal" font-style="normal" fill="#1a1a1a" stroke="#1a1a1a" stroke-width="0.22">0</text>
<line x1="278.05" y1="309.30" x2="278.05" y2="311.80" stroke="#444" stroke-width="1" />
<text x="278.05" y="321.30" font-size="9.3" text-anchor="middle" font-weight="normal" font-style="normal" fill="#1a1a1a" stroke="#1a1a1a" stroke-width="0.22">1</text>
<line x1="329.80" y1="309.30" x2="329.80" y2="311.80" stroke="#444" stroke-width="1" />
<text x="329.80" y="321.30" font-size="9.3" text-anchor="middle" font-weight="normal" font-style="normal" fill="#1a1a1a" stroke="#1a1a1a" stroke-width="0.22">2</text>
<line x1="381.55" y1="309.30" x2="381.55" y2="311.80" stroke="#444" stroke-width="1" />
<text x="381.55" y="321.30" font-size="9.3" text-anchor="middle" font-weight="normal" font-style="normal" fill="#1a1a1a" stroke="#1a1a1a" stroke-width="0.22">3</text>
<text x="300.20" y="329.00" font-size="12.5" text-anchor="start" font-weight="normal" font-style="italic" fill="#1a1a1a" stroke="#1a1a1a" stroke-width="0.1">x</text>
<text x="306.60" y="331.60" font-size="9.5" text-anchor="start" font-weight="normal" font-style="italic" fill="#1a1a1a" stroke="#1a1a1a" stroke-width="0.1">k</text>
<text x="239.50" y="191.50" font-size="11.0" text-anchor="start" font-weight="normal" font-style="normal" fill="#000" stroke="#000" stroke-width="0.3">(d)</text>
<rect x="330.52" y="264.00" width="1.35" height="45.30" fill="#8a8080"/>
<rect x="345.52" y="299.80" width="1.35" height="9.50" fill="#8a8080"/>
<rect x="360.02" y="304.00" width="1.35" height="5.30" fill="#8a8080"/>
<rect x="361.52" y="303.00" width="1.35" height="6.30" fill="#8a8080"/>
<rect x="384.82" y="300.70" width="1.35" height="8.60" fill="#8a8080"/>
<rect x="387.02" y="283.00" width="1.35" height="26.30" fill="#8a8080"/>
<rect x="276.93" y="256.50" width="1.35" height="52.80" fill="#3b7cc6"/>
<rect x="282.32" y="264.30" width="1.35" height="45.00" fill="#3b7cc6"/>
<rect x="297.62" y="248.20" width="1.35" height="61.10" fill="#3b7cc6"/>
<rect x="300.62" y="249.70" width="1.35" height="59.60" fill="#3b7cc6"/>
<rect x="304.02" y="249.00" width="1.35" height="60.30" fill="#3b7cc6"/>
<rect x="307.72" y="290.00" width="1.35" height="19.30" fill="#3b7cc6"/>
<rect x="316.02" y="289.00" width="1.35" height="20.30" fill="#3b7cc6"/>
<rect x="323.12" y="286.70" width="1.35" height="22.60" fill="#3b7cc6"/>
<rect x="323.52" y="252.00" width="1.35" height="57.30" fill="#3b7cc6"/>
<rect x="329.52" y="264.00" width="1.35" height="45.30" fill="#7eaede"/>
<rect x="333.12" y="276.70" width="1.35" height="32.60" fill="#3b7cc6"/>
<rect x="345.52" y="305.50" width="1.35" height="3.80" fill="#3b7cc6"/>
<rect x="348.82" y="299.20" width="1.35" height="10.10" fill="#3b7cc6"/>
<rect x="354.82" y="285.20" width="1.35" height="24.10" fill="#3b7cc6"/>
<rect x="226.22" y="184.80" width="1.35" height="124.50" fill="#4e9a68"/>
<rect x="229.02" y="301.30" width="1.35" height="8.00" fill="#4e9a68"/>
<rect x="232.32" y="201.00" width="1.35" height="108.30" fill="#4e9a68"/>
<rect x="236.52" y="277.30" width="1.35" height="32.00" fill="#4e9a68"/>
<rect x="243.12" y="259.20" width="1.35" height="50.10" fill="#4e9a68"/>
<rect x="252.12" y="299.80" width="1.35" height="9.50" fill="#8cc49c"/>
<rect x="253.32" y="207.70" width="1.35" height="101.60" fill="#4e9a68"/>
<rect x="259.62" y="226.50" width="1.35" height="82.80" fill="#4e9a68"/>
<rect x="264.12" y="252.70" width="1.35" height="56.60" fill="#4e9a68"/>
<rect x="266.82" y="303.20" width="1.35" height="6.10" fill="#8cc49c"/>
<rect x="270.52" y="234.00" width="1.35" height="75.30" fill="#4e9a68"/>
<rect x="274.32" y="271.00" width="1.35" height="38.30" fill="#4e9a68"/>
<rect x="277.32" y="259.50" width="1.35" height="49.80" fill="#8cc49c"/>
<rect x="282.52" y="268.00" width="1.35" height="41.30" fill="#4e9a68"/>
<rect x="289.02" y="282.20" width="1.35" height="27.10" fill="#8cc49c"/>
<rect x="293.52" y="300.20" width="1.35" height="9.10" fill="#4e9a68"/>
<rect x="297.62" y="255.00" width="1.35" height="54.30" fill="#4e9a68"/>
<rect x="300.62" y="254.00" width="1.35" height="55.30" fill="#4e9a68"/>
<rect x="304.02" y="253.00" width="1.35" height="56.30" fill="#4e9a68"/>
<rect x="307.02" y="261.70" width="1.35" height="47.60" fill="#4e9a68"/>
<rect x="312.62" y="302.20" width="1.35" height="7.10" fill="#8cc49c"/>
<rect x="320.52" y="270.00" width="1.35" height="39.30" fill="#4e9a68"/>
<rect x="324.32" y="289.00" width="1.35" height="20.30" fill="#4e9a68"/>
<rect x="326.93" y="262.00" width="1.35" height="47.30" fill="#4e9a68"/>
<line x1="233.00" y1="192.00" x2="233.00" y2="201.00" stroke="#f0d0d0" stroke-width="0.9" stroke-dasharray="1 1"/>
<line x1="237.20" y1="271.80" x2="237.20" y2="277.30" stroke="#f0d0d0" stroke-width="0.9" stroke-dasharray="1 1"/>
<line x1="254.00" y1="206.20" x2="254.00" y2="207.70" stroke="#f0d0d0" stroke-width="0.9" stroke-dasharray="1 1"/>
<line x1="260.30" y1="217.20" x2="260.30" y2="226.50" stroke="#f0d0d0" stroke-width="0.9" stroke-dasharray="1 1"/>
<line x1="264.80" y1="246.70" x2="264.80" y2="252.70" stroke="#f0d0d0" stroke-width="0.9" stroke-dasharray="1 1"/>
<line x1="278.00" y1="244.80" x2="278.00" y2="256.50" stroke="#f0d0d0" stroke-width="0.9" stroke-dasharray="1 1"/>
<line x1="289.70" y1="278.20" x2="289.70" y2="282.20" stroke="#f0d0d0" stroke-width="0.9" stroke-dasharray="1 1"/>
<line x1="298.30" y1="237.70" x2="298.30" y2="248.20" stroke="#f0d0d0" stroke-width="0.9" stroke-dasharray="1 1"/>
<line x1="324.20" y1="247.20" x2="324.20" y2="252.00" stroke="#f0d0d0" stroke-width="0.9" stroke-dasharray="1 1"/>
<line x1="355.50" y1="279.20" x2="355.50" y2="285.20" stroke="#f0d0d0" stroke-width="0.9" stroke-dasharray="1 1"/>
<line x1="387.70" y1="274.30" x2="387.70" y2="283.00" stroke="#f0d0d0" stroke-width="0.9" stroke-dasharray="1 1"/>
<line x1="385.50" y1="289.70" x2="385.50" y2="300.70" stroke="#f0d0d0" stroke-width="0.9" stroke-dasharray="1 1"/>
<line x1="346.50" y1="293.30" x2="346.50" y2="299.80" stroke="#f0d0d0" stroke-width="0.9" stroke-dasharray="1 1"/>
<line x1="362.20" y1="290.20" x2="362.20" y2="303.00" stroke="#f0d0d0" stroke-width="0.9" stroke-dasharray="1 1"/>
<line x1="331.00" y1="257.70" x2="331.00" y2="264.00" stroke="#f0d0d0" stroke-width="0.9" stroke-dasharray="1 1"/>
<circle cx="226.90" cy="184.80" r="1.1" fill="#e01010"/>
<circle cx="229.70" cy="302.50" r="1.1" fill="#e01010"/>
<circle cx="229.70" cy="308.50" r="1.1" fill="#e01010"/>
<circle cx="233.00" cy="192.00" r="1.1" fill="#e01010"/>
<circle cx="233.00" cy="299.50" r="1.1" fill="#e01010"/>
<circle cx="237.20" cy="271.80" r="1.1" fill="#e01010"/>
<circle cx="243.80" cy="259.20" r="1.1" fill="#e01010"/>
<circle cx="243.50" cy="281.80" r="1.1" fill="#e01010"/>
<circle cx="252.80" cy="303.70" r="1.1" fill="#e01010"/>
<circle cx="254.00" cy="206.20" r="1.1" fill="#e01010"/>
<circle cx="254.00" cy="290.80" r="1.1" fill="#e01010"/>
<circle cx="255.80" cy="292.70" r="1.1" fill="#e01010"/>
<circle cx="256.70" cy="298.70" r="1.1" fill="#e01010"/>
<circle cx="257.30" cy="304.70" r="1.1" fill="#e01010"/>
<circle cx="260.30" cy="217.20" r="1.1" fill="#e01010"/>
<circle cx="260.00" cy="303.70" r="1.1" fill="#e01010"/>
<circle cx="264.80" cy="246.70" r="1.1" fill="#e01010"/>
<circle cx="271.20" cy="234.00" r="1.1" fill="#e01010"/>
<circle cx="271.20" cy="257.20" r="1.1" fill="#e01010"/>
<circle cx="271.20" cy="263.20" r="1.1" fill="#e01010"/>
<circle cx="274.00" cy="270.90" r="1.1" fill="#e01010"/>
<circle cx="278.00" cy="244.80" r="1.1" fill="#e01010"/>
<circle cx="278.00" cy="266.70" r="1.1" fill="#e01010"/>
<circle cx="274.00" cy="277.00" r="1.1" fill="#e01010"/>
<circle cx="279.20" cy="299.80" r="1.1" fill="#e01010"/>
<circle cx="283.00" cy="267.30" r="1.1" fill="#e01010"/>
<circle cx="289.70" cy="278.20" r="1.1" fill="#e01010"/>
<circle cx="294.20" cy="298.70" r="1.1" fill="#e01010"/>
<circle cx="296.80" cy="272.50" r="1.1" fill="#e01010"/>
<circle cx="298.30" cy="237.70" r="1.1" fill="#e01010"/>
<circle cx="297.70" cy="306.70" r="1.1" fill="#e01010"/>
<circle cx="299.50" cy="291.20" r="1.1" fill="#e01010"/>
<circle cx="300.70" cy="282.20" r="1.1" fill="#e01010"/>
<circle cx="301.30" cy="246.00" r="1.1" fill="#e01010"/>
<circle cx="302.20" cy="252.00" r="1.1" fill="#e01010"/>
<circle cx="304.70" cy="248.70" r="1.1" fill="#e01010"/>
<circle cx="307.70" cy="256.50" r="1.1" fill="#e01010"/>
<circle cx="307.70" cy="262.50" r="1.1" fill="#e01010"/>
<circle cx="308.80" cy="262.50" r="1.1" fill="#e01010"/>
<circle cx="321.20" cy="273.70" r="1.1" fill="#e01010"/>
<circle cx="321.20" cy="288.70" r="1.1" fill="#e01010"/>
<circle cx="324.20" cy="247.20" r="1.1" fill="#e01010"/>
<circle cx="327.20" cy="265.80" r="1.1" fill="#e01010"/>
<circle cx="328.00" cy="257.20" r="1.1" fill="#e01010"/>
<circle cx="327.70" cy="283.70" r="1.1" fill="#e01010"/>
<circle cx="327.70" cy="299.50" r="1.1" fill="#e01010"/>
<circle cx="327.70" cy="304.70" r="1.1" fill="#e01010"/>
<circle cx="331.00" cy="257.70" r="1.1" fill="#e01010"/>
<circle cx="334.70" cy="267.70" r="1.1" fill="#e01010"/>
<circle cx="333.70" cy="276.70" r="1.1" fill="#e01010"/>
<circle cx="346.50" cy="293.30" r="1.1" fill="#e01010"/>
<circle cx="349.50" cy="296.50" r="1.1" fill="#e01010"/>
<circle cx="352.80" cy="304.00" r="1.1" fill="#e01010"/>
<circle cx="355.50" cy="279.20" r="1.1" fill="#e01010"/>
<circle cx="355.50" cy="307.00" r="1.1" fill="#e01010"/>
<circle cx="360.70" cy="299.50" r="1.1" fill="#e01010"/>
<circle cx="362.20" cy="290.20" r="1.1" fill="#e01010"/>
<circle cx="361.50" cy="298.70" r="1.1" fill="#e01010"/>
<circle cx="368.70" cy="308.80" r="1.1" fill="#e01010"/>
<circle cx="385.50" cy="289.70" r="1.1" fill="#e01010"/>
<circle cx="387.70" cy="274.30" r="1.1" fill="#e01010"/>
<circle cx="391.80" cy="300.00" r="1.1" fill="#e01010"/>
<circle cx="394.20" cy="285.20" r="1.1" fill="#e01010"/>
<circle cx="226.20" cy="308.80" r="1.1" fill="#e01010"/>
<line x1="226.70" y1="309.30" x2="394.40" y2="309.30" stroke="#8a8a8a" stroke-width="1.4" />
<line x1="352.60" y1="176.20" x2="352.60" y2="210.70" stroke="#c0c0c0" stroke-width="0.9" />
<line x1="353.30" y1="183.10" x2="373.70" y2="183.10" stroke="#626262" stroke-width="1.6" />
<line x1="353.30" y1="194.20" x2="373.70" y2="194.20" stroke="#4a86c8" stroke-width="1.6" />
<line x1="353.30" y1="205.20" x2="373.70" y2="205.20" stroke="#4f9f6f" stroke-width="1.6" />
<text x="374.80" y="186.10" font-size="9.0" text-anchor="start" font-weight="normal" font-style="normal" fill="#1a1a1a" stroke="#1a1a1a" stroke-width="0.08">0.15</text>
<text x="374.80" y="197.20" font-size="9.0" text-anchor="start" font-weight="normal" font-style="normal" fill="#1a1a1a" stroke="#1a1a1a" stroke-width="0.08">0.20</text>
<text x="374.80" y="208.20" font-size="9.0" text-anchor="start" font-weight="normal" font-style="normal" fill="#1a1a1a" stroke="#1a1a1a" stroke-width="0.08">0.25</text>
</svg>
</body></html>
